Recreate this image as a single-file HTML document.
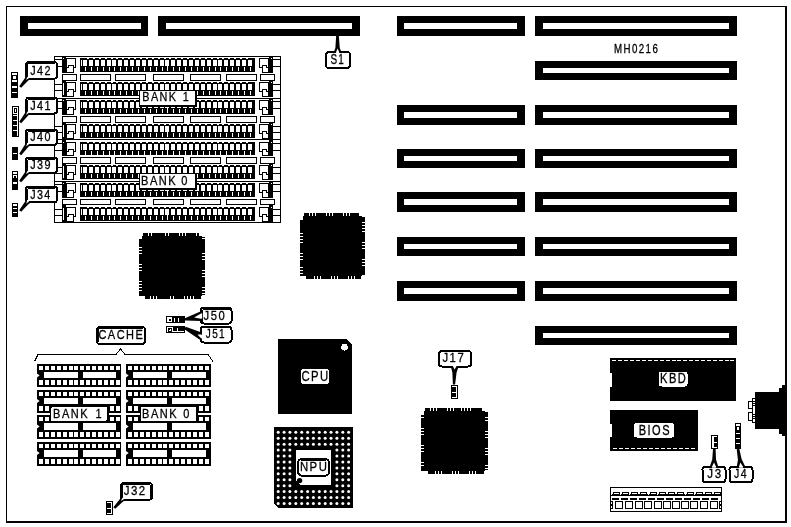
<!DOCTYPE html>
<html lang="en">
<head>
<meta charset="utf-8">
<title>MH0216 motherboard layout</title>
<style>
html,body{margin:0;padding:0;background:#fff;}
body{width:791px;height:527px;overflow:hidden;}
svg{display:block;will-change:transform;}
svg text{font-family:"Liberation Sans",sans-serif;}
</style>
</head>
<body>
<svg width="791" height="527" viewBox="0 0 791 527" shape-rendering="crispEdges">
<rect x="0" y="0" width="791" height="527" fill="#fff"/>
<rect x="6" y="6" width="781" height="1" fill="#000"/>
<rect x="6" y="6" width="1" height="517" fill="#000"/>
<rect x="785" y="6" width="2" height="517" fill="#000"/>
<rect x="6" y="521" width="781" height="2" fill="#000"/>
<rect x="20" y="16" width="128" height="20" fill="#000"/>
<rect x="28" y="23" width="113" height="6" fill="#fff"/>
<rect x="158" y="16" width="202" height="20" fill="#000"/>
<rect x="166" y="23" width="186" height="6" fill="#fff"/>
<rect x="535" y="16" width="202" height="20" fill="#000"/>
<rect x="543" y="23" width="186" height="6" fill="#fff"/>
<rect x="397" y="16" width="128" height="20" fill="#000"/>
<rect x="404" y="23" width="113" height="6" fill="#fff"/>
<rect x="535" y="61" width="202" height="19" fill="#000"/>
<rect x="543" y="68" width="186" height="5" fill="#fff"/>
<rect x="535" y="105" width="202" height="20" fill="#000"/>
<rect x="543" y="112" width="186" height="6" fill="#fff"/>
<rect x="397" y="105" width="128" height="20" fill="#000"/>
<rect x="404" y="112" width="113" height="6" fill="#fff"/>
<rect x="535" y="149" width="202" height="19" fill="#000"/>
<rect x="543" y="156" width="186" height="5" fill="#fff"/>
<rect x="397" y="149" width="128" height="19" fill="#000"/>
<rect x="404" y="156" width="113" height="5" fill="#fff"/>
<rect x="535" y="192" width="202" height="20" fill="#000"/>
<rect x="543" y="199" width="186" height="6" fill="#fff"/>
<rect x="397" y="192" width="128" height="20" fill="#000"/>
<rect x="404" y="199" width="113" height="6" fill="#fff"/>
<rect x="535" y="237" width="202" height="19" fill="#000"/>
<rect x="543" y="244" width="186" height="5" fill="#fff"/>
<rect x="397" y="237" width="128" height="19" fill="#000"/>
<rect x="404" y="244" width="113" height="5" fill="#fff"/>
<rect x="535" y="281" width="202" height="20" fill="#000"/>
<rect x="543" y="288" width="186" height="6" fill="#fff"/>
<rect x="397" y="281" width="128" height="20" fill="#000"/>
<rect x="404" y="288" width="113" height="6" fill="#fff"/>
<rect x="535" y="326" width="202" height="19" fill="#000"/>
<rect x="543" y="333" width="186" height="5" fill="#fff"/>
<rect x="54" y="56" width="227" height="167" fill="#fff"/>
<rect x="54" y="56" width="1" height="167" fill="#000"/>
<rect x="280" y="56" width="1" height="167" fill="#000"/>
<rect x="80" y="58" width="175" height="14" fill="#000"/>
<rect x="81" y="60" width="1" height="6" fill="#fff"/>
<rect x="83" y="60" width="4" height="6" fill="#fff"/>
<rect x="85" y="67" width="1.4" height="4" fill="#fff"/>
<rect x="87" y="58" width="2" height="1" fill="#fff"/>
<rect x="89" y="60" width="4" height="6" fill="#fff"/>
<rect x="91" y="67" width="1.4" height="4" fill="#fff"/>
<rect x="93" y="58" width="2" height="1" fill="#fff"/>
<rect x="95" y="60" width="4" height="6" fill="#fff"/>
<rect x="97" y="67" width="1.4" height="4" fill="#fff"/>
<rect x="99" y="58" width="2" height="1" fill="#fff"/>
<rect x="101" y="60" width="4" height="6" fill="#fff"/>
<rect x="103" y="67" width="1.4" height="4" fill="#fff"/>
<rect x="105" y="58" width="2" height="1" fill="#fff"/>
<rect x="107" y="60" width="4" height="6" fill="#fff"/>
<rect x="109" y="67" width="1.4" height="4" fill="#fff"/>
<rect x="111" y="58" width="2" height="1" fill="#fff"/>
<rect x="112" y="60" width="4" height="6" fill="#fff"/>
<rect x="114" y="67" width="1.4" height="4" fill="#fff"/>
<rect x="116" y="58" width="2" height="1" fill="#fff"/>
<rect x="118" y="60" width="4" height="6" fill="#fff"/>
<rect x="120" y="67" width="1.4" height="4" fill="#fff"/>
<rect x="122" y="58" width="2" height="1" fill="#fff"/>
<rect x="124" y="60" width="4" height="6" fill="#fff"/>
<rect x="126" y="67" width="1.4" height="4" fill="#fff"/>
<rect x="128" y="58" width="2" height="1" fill="#fff"/>
<rect x="130" y="60" width="4" height="6" fill="#fff"/>
<rect x="132" y="67" width="1.4" height="4" fill="#fff"/>
<rect x="134" y="58" width="2" height="1" fill="#fff"/>
<rect x="136" y="60" width="4" height="6" fill="#fff"/>
<rect x="138" y="67" width="1.4" height="4" fill="#fff"/>
<rect x="140" y="58" width="2" height="1" fill="#fff"/>
<rect x="142" y="60" width="4" height="6" fill="#fff"/>
<rect x="144" y="67" width="1.4" height="4" fill="#fff"/>
<rect x="146" y="58" width="2" height="1" fill="#fff"/>
<rect x="148" y="60" width="4" height="6" fill="#fff"/>
<rect x="150" y="67" width="1.4" height="4" fill="#fff"/>
<rect x="152" y="58" width="2" height="1" fill="#fff"/>
<rect x="154" y="60" width="4" height="6" fill="#fff"/>
<rect x="156" y="67" width="1.4" height="4" fill="#fff"/>
<rect x="158" y="58" width="2" height="1" fill="#fff"/>
<rect x="160" y="60" width="4" height="6" fill="#fff"/>
<rect x="162" y="67" width="1.4" height="4" fill="#fff"/>
<rect x="164" y="58" width="2" height="1" fill="#fff"/>
<rect x="165" y="60" width="4" height="6" fill="#fff"/>
<rect x="167" y="67" width="1.4" height="4" fill="#fff"/>
<rect x="169" y="58" width="2" height="1" fill="#fff"/>
<rect x="171" y="60" width="4" height="6" fill="#fff"/>
<rect x="173" y="67" width="1.4" height="4" fill="#fff"/>
<rect x="175" y="58" width="2" height="1" fill="#fff"/>
<rect x="177" y="60" width="4" height="6" fill="#fff"/>
<rect x="179" y="67" width="1.4" height="4" fill="#fff"/>
<rect x="181" y="58" width="2" height="1" fill="#fff"/>
<rect x="183" y="60" width="4" height="6" fill="#fff"/>
<rect x="185" y="67" width="1.4" height="4" fill="#fff"/>
<rect x="187" y="58" width="2" height="1" fill="#fff"/>
<rect x="189" y="60" width="4" height="6" fill="#fff"/>
<rect x="191" y="67" width="1.4" height="4" fill="#fff"/>
<rect x="193" y="58" width="2" height="1" fill="#fff"/>
<rect x="195" y="60" width="4" height="6" fill="#fff"/>
<rect x="197" y="67" width="1.4" height="4" fill="#fff"/>
<rect x="199" y="58" width="2" height="1" fill="#fff"/>
<rect x="201" y="60" width="4" height="6" fill="#fff"/>
<rect x="203" y="67" width="1.4" height="4" fill="#fff"/>
<rect x="205" y="58" width="2" height="1" fill="#fff"/>
<rect x="207" y="60" width="4" height="6" fill="#fff"/>
<rect x="209" y="67" width="1.4" height="4" fill="#fff"/>
<rect x="211" y="58" width="2" height="1" fill="#fff"/>
<rect x="213" y="60" width="4" height="6" fill="#fff"/>
<rect x="215" y="67" width="1.4" height="4" fill="#fff"/>
<rect x="217" y="58" width="2" height="1" fill="#fff"/>
<rect x="218" y="60" width="4" height="6" fill="#fff"/>
<rect x="220" y="67" width="1.4" height="4" fill="#fff"/>
<rect x="222" y="58" width="2" height="1" fill="#fff"/>
<rect x="224" y="60" width="4" height="6" fill="#fff"/>
<rect x="226" y="67" width="1.4" height="4" fill="#fff"/>
<rect x="228" y="58" width="2" height="1" fill="#fff"/>
<rect x="230" y="60" width="4" height="6" fill="#fff"/>
<rect x="232" y="67" width="1.4" height="4" fill="#fff"/>
<rect x="234" y="58" width="2" height="1" fill="#fff"/>
<rect x="236" y="60" width="4" height="6" fill="#fff"/>
<rect x="238" y="67" width="1.4" height="4" fill="#fff"/>
<rect x="240" y="58" width="2" height="1" fill="#fff"/>
<rect x="242" y="60" width="4" height="6" fill="#fff"/>
<rect x="244" y="67" width="1.4" height="4" fill="#fff"/>
<rect x="246" y="58" width="2" height="1" fill="#fff"/>
<rect x="248" y="60" width="4" height="6" fill="#fff"/>
<rect x="250" y="67" width="1.4" height="4" fill="#fff"/>
<rect x="167" y="60" width="1.4" height="11" fill="#fff"/>
<rect x="80" y="82" width="175" height="14" fill="#000"/>
<rect x="81" y="84" width="1" height="6" fill="#fff"/>
<rect x="83" y="84" width="4" height="6" fill="#fff"/>
<rect x="85" y="91" width="1.4" height="4" fill="#fff"/>
<rect x="87" y="82" width="2" height="1" fill="#fff"/>
<rect x="89" y="84" width="4" height="6" fill="#fff"/>
<rect x="91" y="91" width="1.4" height="4" fill="#fff"/>
<rect x="93" y="82" width="2" height="1" fill="#fff"/>
<rect x="95" y="84" width="4" height="6" fill="#fff"/>
<rect x="97" y="91" width="1.4" height="4" fill="#fff"/>
<rect x="99" y="82" width="2" height="1" fill="#fff"/>
<rect x="101" y="84" width="4" height="6" fill="#fff"/>
<rect x="103" y="91" width="1.4" height="4" fill="#fff"/>
<rect x="105" y="82" width="2" height="1" fill="#fff"/>
<rect x="107" y="84" width="4" height="6" fill="#fff"/>
<rect x="109" y="91" width="1.4" height="4" fill="#fff"/>
<rect x="111" y="82" width="2" height="1" fill="#fff"/>
<rect x="112" y="84" width="4" height="6" fill="#fff"/>
<rect x="114" y="91" width="1.4" height="4" fill="#fff"/>
<rect x="116" y="82" width="2" height="1" fill="#fff"/>
<rect x="118" y="84" width="4" height="6" fill="#fff"/>
<rect x="120" y="91" width="1.4" height="4" fill="#fff"/>
<rect x="122" y="82" width="2" height="1" fill="#fff"/>
<rect x="124" y="84" width="4" height="6" fill="#fff"/>
<rect x="126" y="91" width="1.4" height="4" fill="#fff"/>
<rect x="128" y="82" width="2" height="1" fill="#fff"/>
<rect x="130" y="84" width="4" height="6" fill="#fff"/>
<rect x="132" y="91" width="1.4" height="4" fill="#fff"/>
<rect x="134" y="82" width="2" height="1" fill="#fff"/>
<rect x="136" y="84" width="4" height="6" fill="#fff"/>
<rect x="138" y="91" width="1.4" height="4" fill="#fff"/>
<rect x="140" y="82" width="2" height="1" fill="#fff"/>
<rect x="142" y="84" width="4" height="6" fill="#fff"/>
<rect x="144" y="91" width="1.4" height="4" fill="#fff"/>
<rect x="146" y="82" width="2" height="1" fill="#fff"/>
<rect x="148" y="84" width="4" height="6" fill="#fff"/>
<rect x="150" y="91" width="1.4" height="4" fill="#fff"/>
<rect x="152" y="82" width="2" height="1" fill="#fff"/>
<rect x="154" y="84" width="4" height="6" fill="#fff"/>
<rect x="156" y="91" width="1.4" height="4" fill="#fff"/>
<rect x="158" y="82" width="2" height="1" fill="#fff"/>
<rect x="160" y="84" width="4" height="6" fill="#fff"/>
<rect x="162" y="91" width="1.4" height="4" fill="#fff"/>
<rect x="164" y="82" width="2" height="1" fill="#fff"/>
<rect x="165" y="84" width="4" height="6" fill="#fff"/>
<rect x="167" y="91" width="1.4" height="4" fill="#fff"/>
<rect x="169" y="82" width="2" height="1" fill="#fff"/>
<rect x="171" y="84" width="4" height="6" fill="#fff"/>
<rect x="173" y="91" width="1.4" height="4" fill="#fff"/>
<rect x="175" y="82" width="2" height="1" fill="#fff"/>
<rect x="177" y="84" width="4" height="6" fill="#fff"/>
<rect x="179" y="91" width="1.4" height="4" fill="#fff"/>
<rect x="181" y="82" width="2" height="1" fill="#fff"/>
<rect x="183" y="84" width="4" height="6" fill="#fff"/>
<rect x="185" y="91" width="1.4" height="4" fill="#fff"/>
<rect x="187" y="82" width="2" height="1" fill="#fff"/>
<rect x="189" y="84" width="4" height="6" fill="#fff"/>
<rect x="191" y="91" width="1.4" height="4" fill="#fff"/>
<rect x="193" y="82" width="2" height="1" fill="#fff"/>
<rect x="195" y="84" width="4" height="6" fill="#fff"/>
<rect x="197" y="91" width="1.4" height="4" fill="#fff"/>
<rect x="199" y="82" width="2" height="1" fill="#fff"/>
<rect x="201" y="84" width="4" height="6" fill="#fff"/>
<rect x="203" y="91" width="1.4" height="4" fill="#fff"/>
<rect x="205" y="82" width="2" height="1" fill="#fff"/>
<rect x="207" y="84" width="4" height="6" fill="#fff"/>
<rect x="209" y="91" width="1.4" height="4" fill="#fff"/>
<rect x="211" y="82" width="2" height="1" fill="#fff"/>
<rect x="213" y="84" width="4" height="6" fill="#fff"/>
<rect x="215" y="91" width="1.4" height="4" fill="#fff"/>
<rect x="217" y="82" width="2" height="1" fill="#fff"/>
<rect x="218" y="84" width="4" height="6" fill="#fff"/>
<rect x="220" y="91" width="1.4" height="4" fill="#fff"/>
<rect x="222" y="82" width="2" height="1" fill="#fff"/>
<rect x="224" y="84" width="4" height="6" fill="#fff"/>
<rect x="226" y="91" width="1.4" height="4" fill="#fff"/>
<rect x="228" y="82" width="2" height="1" fill="#fff"/>
<rect x="230" y="84" width="4" height="6" fill="#fff"/>
<rect x="232" y="91" width="1.4" height="4" fill="#fff"/>
<rect x="234" y="82" width="2" height="1" fill="#fff"/>
<rect x="236" y="84" width="4" height="6" fill="#fff"/>
<rect x="238" y="91" width="1.4" height="4" fill="#fff"/>
<rect x="240" y="82" width="2" height="1" fill="#fff"/>
<rect x="242" y="84" width="4" height="6" fill="#fff"/>
<rect x="244" y="91" width="1.4" height="4" fill="#fff"/>
<rect x="246" y="82" width="2" height="1" fill="#fff"/>
<rect x="248" y="84" width="4" height="6" fill="#fff"/>
<rect x="250" y="91" width="1.4" height="4" fill="#fff"/>
<rect x="167" y="84" width="1.4" height="11" fill="#fff"/>
<rect x="62" y="56" width="4" height="17" fill="#000"/>
<rect x="63" y="58" width="1" height="1" fill="#fff"/>
<polygon points="66.5,58.5 75.5,58.5 75.5,67.5 66.5,67.5" fill="#fff" stroke="#000" stroke-width="1"/>
<polygon points="66.5,67.5 68.5,67.5 68.5,65.5 73,65.5 73,72.5 66.5,72.5" fill="#fff" stroke="#000" stroke-width="1"/>
<rect x="269" y="56" width="4" height="17" fill="#000"/>
<rect x="271" y="58" width="1" height="1" fill="#fff"/>
<polygon points="268.5,58.5 259.5,58.5 259.5,67.5 268.5,67.5" fill="#fff" stroke="#000" stroke-width="1"/>
<polygon points="268.5,67.5 266.5,67.5 266.5,65.5 262,65.5 262,72.5 268.5,72.5" fill="#fff" stroke="#000" stroke-width="1"/>
<rect x="62" y="80" width="4" height="17" fill="#000"/>
<rect x="63" y="83" width="1" height="12" fill="#fff"/>
<polygon points="66.5,82.5 75.5,82.5 75.5,91.5 66.5,91.5" fill="#fff" stroke="#000" stroke-width="1"/>
<polygon points="66.5,91.5 68.5,91.5 68.5,89.5 73,89.5 73,96.5 66.5,96.5" fill="#fff" stroke="#000" stroke-width="1"/>
<rect x="269" y="80" width="4" height="17" fill="#000"/>
<rect x="271" y="82" width="1" height="1" fill="#fff"/>
<polygon points="268.5,82.5 259.5,82.5 259.5,91.5 268.5,91.5" fill="#fff" stroke="#000" stroke-width="1"/>
<polygon points="268.5,91.5 266.5,91.5 266.5,89.5 262,89.5 262,96.5 268.5,96.5" fill="#fff" stroke="#000" stroke-width="1"/>
<rect x="62.5" y="74.5" width="14" height="5.5" fill="#fff" stroke="#000" stroke-width="1"/>
<rect x="80.5" y="74.5" width="30" height="5.5" fill="#fff" stroke="#000" stroke-width="1"/>
<rect x="115.5" y="74.5" width="30" height="5.5" fill="#fff" stroke="#000" stroke-width="1"/>
<rect x="153.5" y="74.5" width="30" height="5.5" fill="#fff" stroke="#000" stroke-width="1"/>
<rect x="190.5" y="74.5" width="30" height="5.5" fill="#fff" stroke="#000" stroke-width="1"/>
<rect x="226.5" y="74.5" width="30" height="5.5" fill="#fff" stroke="#000" stroke-width="1"/>
<rect x="260.5" y="74.5" width="14" height="5.5" fill="#fff" stroke="#000" stroke-width="1"/>
<rect x="54" y="59" width="8" height="1" fill="#000"/>
<rect x="273" y="59" width="8" height="1" fill="#000"/>
<rect x="54" y="66" width="8" height="1" fill="#000"/>
<rect x="273" y="66" width="8" height="1" fill="#000"/>
<rect x="54" y="84" width="8" height="1" fill="#000"/>
<rect x="273" y="84" width="8" height="1" fill="#000"/>
<rect x="54" y="90" width="8" height="1" fill="#000"/>
<rect x="273" y="90" width="8" height="1" fill="#000"/>
<rect x="80" y="100" width="175" height="14" fill="#000"/>
<rect x="81" y="102" width="1" height="6" fill="#fff"/>
<rect x="83" y="102" width="4" height="6" fill="#fff"/>
<rect x="85" y="109" width="1.4" height="4" fill="#fff"/>
<rect x="87" y="100" width="2" height="1" fill="#fff"/>
<rect x="89" y="102" width="4" height="6" fill="#fff"/>
<rect x="91" y="109" width="1.4" height="4" fill="#fff"/>
<rect x="93" y="100" width="2" height="1" fill="#fff"/>
<rect x="95" y="102" width="4" height="6" fill="#fff"/>
<rect x="97" y="109" width="1.4" height="4" fill="#fff"/>
<rect x="99" y="100" width="2" height="1" fill="#fff"/>
<rect x="101" y="102" width="4" height="6" fill="#fff"/>
<rect x="103" y="109" width="1.4" height="4" fill="#fff"/>
<rect x="105" y="100" width="2" height="1" fill="#fff"/>
<rect x="107" y="102" width="4" height="6" fill="#fff"/>
<rect x="109" y="109" width="1.4" height="4" fill="#fff"/>
<rect x="111" y="100" width="2" height="1" fill="#fff"/>
<rect x="112" y="102" width="4" height="6" fill="#fff"/>
<rect x="114" y="109" width="1.4" height="4" fill="#fff"/>
<rect x="116" y="100" width="2" height="1" fill="#fff"/>
<rect x="118" y="102" width="4" height="6" fill="#fff"/>
<rect x="120" y="109" width="1.4" height="4" fill="#fff"/>
<rect x="122" y="100" width="2" height="1" fill="#fff"/>
<rect x="124" y="102" width="4" height="6" fill="#fff"/>
<rect x="126" y="109" width="1.4" height="4" fill="#fff"/>
<rect x="128" y="100" width="2" height="1" fill="#fff"/>
<rect x="130" y="102" width="4" height="6" fill="#fff"/>
<rect x="132" y="109" width="1.4" height="4" fill="#fff"/>
<rect x="134" y="100" width="2" height="1" fill="#fff"/>
<rect x="136" y="102" width="4" height="6" fill="#fff"/>
<rect x="138" y="109" width="1.4" height="4" fill="#fff"/>
<rect x="140" y="100" width="2" height="1" fill="#fff"/>
<rect x="142" y="102" width="4" height="6" fill="#fff"/>
<rect x="144" y="109" width="1.4" height="4" fill="#fff"/>
<rect x="146" y="100" width="2" height="1" fill="#fff"/>
<rect x="148" y="102" width="4" height="6" fill="#fff"/>
<rect x="150" y="109" width="1.4" height="4" fill="#fff"/>
<rect x="152" y="100" width="2" height="1" fill="#fff"/>
<rect x="154" y="102" width="4" height="6" fill="#fff"/>
<rect x="156" y="109" width="1.4" height="4" fill="#fff"/>
<rect x="158" y="100" width="2" height="1" fill="#fff"/>
<rect x="160" y="102" width="4" height="6" fill="#fff"/>
<rect x="162" y="109" width="1.4" height="4" fill="#fff"/>
<rect x="164" y="100" width="2" height="1" fill="#fff"/>
<rect x="165" y="102" width="4" height="6" fill="#fff"/>
<rect x="167" y="109" width="1.4" height="4" fill="#fff"/>
<rect x="169" y="100" width="2" height="1" fill="#fff"/>
<rect x="171" y="102" width="4" height="6" fill="#fff"/>
<rect x="173" y="109" width="1.4" height="4" fill="#fff"/>
<rect x="175" y="100" width="2" height="1" fill="#fff"/>
<rect x="177" y="102" width="4" height="6" fill="#fff"/>
<rect x="179" y="109" width="1.4" height="4" fill="#fff"/>
<rect x="181" y="100" width="2" height="1" fill="#fff"/>
<rect x="183" y="102" width="4" height="6" fill="#fff"/>
<rect x="185" y="109" width="1.4" height="4" fill="#fff"/>
<rect x="187" y="100" width="2" height="1" fill="#fff"/>
<rect x="189" y="102" width="4" height="6" fill="#fff"/>
<rect x="191" y="109" width="1.4" height="4" fill="#fff"/>
<rect x="193" y="100" width="2" height="1" fill="#fff"/>
<rect x="195" y="102" width="4" height="6" fill="#fff"/>
<rect x="197" y="109" width="1.4" height="4" fill="#fff"/>
<rect x="199" y="100" width="2" height="1" fill="#fff"/>
<rect x="201" y="102" width="4" height="6" fill="#fff"/>
<rect x="203" y="109" width="1.4" height="4" fill="#fff"/>
<rect x="205" y="100" width="2" height="1" fill="#fff"/>
<rect x="207" y="102" width="4" height="6" fill="#fff"/>
<rect x="209" y="109" width="1.4" height="4" fill="#fff"/>
<rect x="211" y="100" width="2" height="1" fill="#fff"/>
<rect x="213" y="102" width="4" height="6" fill="#fff"/>
<rect x="215" y="109" width="1.4" height="4" fill="#fff"/>
<rect x="217" y="100" width="2" height="1" fill="#fff"/>
<rect x="218" y="102" width="4" height="6" fill="#fff"/>
<rect x="220" y="109" width="1.4" height="4" fill="#fff"/>
<rect x="222" y="100" width="2" height="1" fill="#fff"/>
<rect x="224" y="102" width="4" height="6" fill="#fff"/>
<rect x="226" y="109" width="1.4" height="4" fill="#fff"/>
<rect x="228" y="100" width="2" height="1" fill="#fff"/>
<rect x="230" y="102" width="4" height="6" fill="#fff"/>
<rect x="232" y="109" width="1.4" height="4" fill="#fff"/>
<rect x="234" y="100" width="2" height="1" fill="#fff"/>
<rect x="236" y="102" width="4" height="6" fill="#fff"/>
<rect x="238" y="109" width="1.4" height="4" fill="#fff"/>
<rect x="240" y="100" width="2" height="1" fill="#fff"/>
<rect x="242" y="102" width="4" height="6" fill="#fff"/>
<rect x="244" y="109" width="1.4" height="4" fill="#fff"/>
<rect x="246" y="100" width="2" height="1" fill="#fff"/>
<rect x="248" y="102" width="4" height="6" fill="#fff"/>
<rect x="250" y="109" width="1.4" height="4" fill="#fff"/>
<rect x="167" y="102" width="1.4" height="11" fill="#fff"/>
<rect x="80" y="124" width="175" height="14" fill="#000"/>
<rect x="81" y="126" width="1" height="6" fill="#fff"/>
<rect x="83" y="126" width="4" height="6" fill="#fff"/>
<rect x="85" y="133" width="1.4" height="4" fill="#fff"/>
<rect x="87" y="124" width="2" height="1" fill="#fff"/>
<rect x="89" y="126" width="4" height="6" fill="#fff"/>
<rect x="91" y="133" width="1.4" height="4" fill="#fff"/>
<rect x="93" y="124" width="2" height="1" fill="#fff"/>
<rect x="95" y="126" width="4" height="6" fill="#fff"/>
<rect x="97" y="133" width="1.4" height="4" fill="#fff"/>
<rect x="99" y="124" width="2" height="1" fill="#fff"/>
<rect x="101" y="126" width="4" height="6" fill="#fff"/>
<rect x="103" y="133" width="1.4" height="4" fill="#fff"/>
<rect x="105" y="124" width="2" height="1" fill="#fff"/>
<rect x="107" y="126" width="4" height="6" fill="#fff"/>
<rect x="109" y="133" width="1.4" height="4" fill="#fff"/>
<rect x="111" y="124" width="2" height="1" fill="#fff"/>
<rect x="112" y="126" width="4" height="6" fill="#fff"/>
<rect x="114" y="133" width="1.4" height="4" fill="#fff"/>
<rect x="116" y="124" width="2" height="1" fill="#fff"/>
<rect x="118" y="126" width="4" height="6" fill="#fff"/>
<rect x="120" y="133" width="1.4" height="4" fill="#fff"/>
<rect x="122" y="124" width="2" height="1" fill="#fff"/>
<rect x="124" y="126" width="4" height="6" fill="#fff"/>
<rect x="126" y="133" width="1.4" height="4" fill="#fff"/>
<rect x="128" y="124" width="2" height="1" fill="#fff"/>
<rect x="130" y="126" width="4" height="6" fill="#fff"/>
<rect x="132" y="133" width="1.4" height="4" fill="#fff"/>
<rect x="134" y="124" width="2" height="1" fill="#fff"/>
<rect x="136" y="126" width="4" height="6" fill="#fff"/>
<rect x="138" y="133" width="1.4" height="4" fill="#fff"/>
<rect x="140" y="124" width="2" height="1" fill="#fff"/>
<rect x="142" y="126" width="4" height="6" fill="#fff"/>
<rect x="144" y="133" width="1.4" height="4" fill="#fff"/>
<rect x="146" y="124" width="2" height="1" fill="#fff"/>
<rect x="148" y="126" width="4" height="6" fill="#fff"/>
<rect x="150" y="133" width="1.4" height="4" fill="#fff"/>
<rect x="152" y="124" width="2" height="1" fill="#fff"/>
<rect x="154" y="126" width="4" height="6" fill="#fff"/>
<rect x="156" y="133" width="1.4" height="4" fill="#fff"/>
<rect x="158" y="124" width="2" height="1" fill="#fff"/>
<rect x="160" y="126" width="4" height="6" fill="#fff"/>
<rect x="162" y="133" width="1.4" height="4" fill="#fff"/>
<rect x="164" y="124" width="2" height="1" fill="#fff"/>
<rect x="165" y="126" width="4" height="6" fill="#fff"/>
<rect x="167" y="133" width="1.4" height="4" fill="#fff"/>
<rect x="169" y="124" width="2" height="1" fill="#fff"/>
<rect x="171" y="126" width="4" height="6" fill="#fff"/>
<rect x="173" y="133" width="1.4" height="4" fill="#fff"/>
<rect x="175" y="124" width="2" height="1" fill="#fff"/>
<rect x="177" y="126" width="4" height="6" fill="#fff"/>
<rect x="179" y="133" width="1.4" height="4" fill="#fff"/>
<rect x="181" y="124" width="2" height="1" fill="#fff"/>
<rect x="183" y="126" width="4" height="6" fill="#fff"/>
<rect x="185" y="133" width="1.4" height="4" fill="#fff"/>
<rect x="187" y="124" width="2" height="1" fill="#fff"/>
<rect x="189" y="126" width="4" height="6" fill="#fff"/>
<rect x="191" y="133" width="1.4" height="4" fill="#fff"/>
<rect x="193" y="124" width="2" height="1" fill="#fff"/>
<rect x="195" y="126" width="4" height="6" fill="#fff"/>
<rect x="197" y="133" width="1.4" height="4" fill="#fff"/>
<rect x="199" y="124" width="2" height="1" fill="#fff"/>
<rect x="201" y="126" width="4" height="6" fill="#fff"/>
<rect x="203" y="133" width="1.4" height="4" fill="#fff"/>
<rect x="205" y="124" width="2" height="1" fill="#fff"/>
<rect x="207" y="126" width="4" height="6" fill="#fff"/>
<rect x="209" y="133" width="1.4" height="4" fill="#fff"/>
<rect x="211" y="124" width="2" height="1" fill="#fff"/>
<rect x="213" y="126" width="4" height="6" fill="#fff"/>
<rect x="215" y="133" width="1.4" height="4" fill="#fff"/>
<rect x="217" y="124" width="2" height="1" fill="#fff"/>
<rect x="218" y="126" width="4" height="6" fill="#fff"/>
<rect x="220" y="133" width="1.4" height="4" fill="#fff"/>
<rect x="222" y="124" width="2" height="1" fill="#fff"/>
<rect x="224" y="126" width="4" height="6" fill="#fff"/>
<rect x="226" y="133" width="1.4" height="4" fill="#fff"/>
<rect x="228" y="124" width="2" height="1" fill="#fff"/>
<rect x="230" y="126" width="4" height="6" fill="#fff"/>
<rect x="232" y="133" width="1.4" height="4" fill="#fff"/>
<rect x="234" y="124" width="2" height="1" fill="#fff"/>
<rect x="236" y="126" width="4" height="6" fill="#fff"/>
<rect x="238" y="133" width="1.4" height="4" fill="#fff"/>
<rect x="240" y="124" width="2" height="1" fill="#fff"/>
<rect x="242" y="126" width="4" height="6" fill="#fff"/>
<rect x="244" y="133" width="1.4" height="4" fill="#fff"/>
<rect x="246" y="124" width="2" height="1" fill="#fff"/>
<rect x="248" y="126" width="4" height="6" fill="#fff"/>
<rect x="250" y="133" width="1.4" height="4" fill="#fff"/>
<rect x="167" y="126" width="1.4" height="11" fill="#fff"/>
<rect x="62" y="98" width="4" height="17" fill="#000"/>
<rect x="63" y="100" width="1" height="1" fill="#fff"/>
<polygon points="66.5,100.5 75.5,100.5 75.5,109.5 66.5,109.5" fill="#fff" stroke="#000" stroke-width="1"/>
<polygon points="66.5,109.5 68.5,109.5 68.5,107.5 73,107.5 73,114.5 66.5,114.5" fill="#fff" stroke="#000" stroke-width="1"/>
<rect x="269" y="98" width="4" height="17" fill="#000"/>
<rect x="271" y="100" width="1" height="1" fill="#fff"/>
<polygon points="268.5,100.5 259.5,100.5 259.5,109.5 268.5,109.5" fill="#fff" stroke="#000" stroke-width="1"/>
<polygon points="268.5,109.5 266.5,109.5 266.5,107.5 262,107.5 262,114.5 268.5,114.5" fill="#fff" stroke="#000" stroke-width="1"/>
<rect x="62" y="122" width="4" height="17" fill="#000"/>
<rect x="63" y="125" width="1" height="12" fill="#fff"/>
<polygon points="66.5,124.5 75.5,124.5 75.5,133.5 66.5,133.5" fill="#fff" stroke="#000" stroke-width="1"/>
<polygon points="66.5,133.5 68.5,133.5 68.5,131.5 73,131.5 73,138.5 66.5,138.5" fill="#fff" stroke="#000" stroke-width="1"/>
<rect x="269" y="122" width="4" height="17" fill="#000"/>
<rect x="271" y="124" width="1" height="1" fill="#fff"/>
<polygon points="268.5,124.5 259.5,124.5 259.5,133.5 268.5,133.5" fill="#fff" stroke="#000" stroke-width="1"/>
<polygon points="268.5,133.5 266.5,133.5 266.5,131.5 262,131.5 262,138.5 268.5,138.5" fill="#fff" stroke="#000" stroke-width="1"/>
<rect x="62.5" y="116.5" width="14" height="5.5" fill="#fff" stroke="#000" stroke-width="1"/>
<rect x="80.5" y="116.5" width="30" height="5.5" fill="#fff" stroke="#000" stroke-width="1"/>
<rect x="115.5" y="116.5" width="30" height="5.5" fill="#fff" stroke="#000" stroke-width="1"/>
<rect x="153.5" y="116.5" width="30" height="5.5" fill="#fff" stroke="#000" stroke-width="1"/>
<rect x="190.5" y="116.5" width="30" height="5.5" fill="#fff" stroke="#000" stroke-width="1"/>
<rect x="226.5" y="116.5" width="30" height="5.5" fill="#fff" stroke="#000" stroke-width="1"/>
<rect x="260.5" y="116.5" width="14" height="5.5" fill="#fff" stroke="#000" stroke-width="1"/>
<rect x="54" y="101" width="8" height="1" fill="#000"/>
<rect x="273" y="101" width="8" height="1" fill="#000"/>
<rect x="54" y="108" width="8" height="1" fill="#000"/>
<rect x="273" y="108" width="8" height="1" fill="#000"/>
<rect x="54" y="126" width="8" height="1" fill="#000"/>
<rect x="273" y="126" width="8" height="1" fill="#000"/>
<rect x="54" y="132" width="8" height="1" fill="#000"/>
<rect x="273" y="132" width="8" height="1" fill="#000"/>
<rect x="80" y="141.5" width="175" height="13.5" fill="#000"/>
<rect x="81" y="143.5" width="1" height="6" fill="#fff"/>
<rect x="83" y="143.5" width="4" height="6" fill="#fff"/>
<rect x="85" y="150.5" width="1.4" height="4" fill="#fff"/>
<rect x="87" y="141.5" width="2" height="1" fill="#fff"/>
<rect x="89" y="143.5" width="4" height="6" fill="#fff"/>
<rect x="91" y="150.5" width="1.4" height="4" fill="#fff"/>
<rect x="93" y="141.5" width="2" height="1" fill="#fff"/>
<rect x="95" y="143.5" width="4" height="6" fill="#fff"/>
<rect x="97" y="150.5" width="1.4" height="4" fill="#fff"/>
<rect x="99" y="141.5" width="2" height="1" fill="#fff"/>
<rect x="101" y="143.5" width="4" height="6" fill="#fff"/>
<rect x="103" y="150.5" width="1.4" height="4" fill="#fff"/>
<rect x="105" y="141.5" width="2" height="1" fill="#fff"/>
<rect x="107" y="143.5" width="4" height="6" fill="#fff"/>
<rect x="109" y="150.5" width="1.4" height="4" fill="#fff"/>
<rect x="111" y="141.5" width="2" height="1" fill="#fff"/>
<rect x="112" y="143.5" width="4" height="6" fill="#fff"/>
<rect x="114" y="150.5" width="1.4" height="4" fill="#fff"/>
<rect x="116" y="141.5" width="2" height="1" fill="#fff"/>
<rect x="118" y="143.5" width="4" height="6" fill="#fff"/>
<rect x="120" y="150.5" width="1.4" height="4" fill="#fff"/>
<rect x="122" y="141.5" width="2" height="1" fill="#fff"/>
<rect x="124" y="143.5" width="4" height="6" fill="#fff"/>
<rect x="126" y="150.5" width="1.4" height="4" fill="#fff"/>
<rect x="128" y="141.5" width="2" height="1" fill="#fff"/>
<rect x="130" y="143.5" width="4" height="6" fill="#fff"/>
<rect x="132" y="150.5" width="1.4" height="4" fill="#fff"/>
<rect x="134" y="141.5" width="2" height="1" fill="#fff"/>
<rect x="136" y="143.5" width="4" height="6" fill="#fff"/>
<rect x="138" y="150.5" width="1.4" height="4" fill="#fff"/>
<rect x="140" y="141.5" width="2" height="1" fill="#fff"/>
<rect x="142" y="143.5" width="4" height="6" fill="#fff"/>
<rect x="144" y="150.5" width="1.4" height="4" fill="#fff"/>
<rect x="146" y="141.5" width="2" height="1" fill="#fff"/>
<rect x="148" y="143.5" width="4" height="6" fill="#fff"/>
<rect x="150" y="150.5" width="1.4" height="4" fill="#fff"/>
<rect x="152" y="141.5" width="2" height="1" fill="#fff"/>
<rect x="154" y="143.5" width="4" height="6" fill="#fff"/>
<rect x="156" y="150.5" width="1.4" height="4" fill="#fff"/>
<rect x="158" y="141.5" width="2" height="1" fill="#fff"/>
<rect x="160" y="143.5" width="4" height="6" fill="#fff"/>
<rect x="162" y="150.5" width="1.4" height="4" fill="#fff"/>
<rect x="164" y="141.5" width="2" height="1" fill="#fff"/>
<rect x="165" y="143.5" width="4" height="6" fill="#fff"/>
<rect x="167" y="150.5" width="1.4" height="4" fill="#fff"/>
<rect x="169" y="141.5" width="2" height="1" fill="#fff"/>
<rect x="171" y="143.5" width="4" height="6" fill="#fff"/>
<rect x="173" y="150.5" width="1.4" height="4" fill="#fff"/>
<rect x="175" y="141.5" width="2" height="1" fill="#fff"/>
<rect x="177" y="143.5" width="4" height="6" fill="#fff"/>
<rect x="179" y="150.5" width="1.4" height="4" fill="#fff"/>
<rect x="181" y="141.5" width="2" height="1" fill="#fff"/>
<rect x="183" y="143.5" width="4" height="6" fill="#fff"/>
<rect x="185" y="150.5" width="1.4" height="4" fill="#fff"/>
<rect x="187" y="141.5" width="2" height="1" fill="#fff"/>
<rect x="189" y="143.5" width="4" height="6" fill="#fff"/>
<rect x="191" y="150.5" width="1.4" height="4" fill="#fff"/>
<rect x="193" y="141.5" width="2" height="1" fill="#fff"/>
<rect x="195" y="143.5" width="4" height="6" fill="#fff"/>
<rect x="197" y="150.5" width="1.4" height="4" fill="#fff"/>
<rect x="199" y="141.5" width="2" height="1" fill="#fff"/>
<rect x="201" y="143.5" width="4" height="6" fill="#fff"/>
<rect x="203" y="150.5" width="1.4" height="4" fill="#fff"/>
<rect x="205" y="141.5" width="2" height="1" fill="#fff"/>
<rect x="207" y="143.5" width="4" height="6" fill="#fff"/>
<rect x="209" y="150.5" width="1.4" height="4" fill="#fff"/>
<rect x="211" y="141.5" width="2" height="1" fill="#fff"/>
<rect x="213" y="143.5" width="4" height="6" fill="#fff"/>
<rect x="215" y="150.5" width="1.4" height="4" fill="#fff"/>
<rect x="217" y="141.5" width="2" height="1" fill="#fff"/>
<rect x="218" y="143.5" width="4" height="6" fill="#fff"/>
<rect x="220" y="150.5" width="1.4" height="4" fill="#fff"/>
<rect x="222" y="141.5" width="2" height="1" fill="#fff"/>
<rect x="224" y="143.5" width="4" height="6" fill="#fff"/>
<rect x="226" y="150.5" width="1.4" height="4" fill="#fff"/>
<rect x="228" y="141.5" width="2" height="1" fill="#fff"/>
<rect x="230" y="143.5" width="4" height="6" fill="#fff"/>
<rect x="232" y="150.5" width="1.4" height="4" fill="#fff"/>
<rect x="234" y="141.5" width="2" height="1" fill="#fff"/>
<rect x="236" y="143.5" width="4" height="6" fill="#fff"/>
<rect x="238" y="150.5" width="1.4" height="4" fill="#fff"/>
<rect x="240" y="141.5" width="2" height="1" fill="#fff"/>
<rect x="242" y="143.5" width="4" height="6" fill="#fff"/>
<rect x="244" y="150.5" width="1.4" height="4" fill="#fff"/>
<rect x="246" y="141.5" width="2" height="1" fill="#fff"/>
<rect x="248" y="143.5" width="4" height="6" fill="#fff"/>
<rect x="250" y="150.5" width="1.4" height="4" fill="#fff"/>
<rect x="167" y="143.5" width="1.4" height="11" fill="#fff"/>
<rect x="80" y="165" width="175" height="14" fill="#000"/>
<rect x="81" y="167" width="1" height="6" fill="#fff"/>
<rect x="83" y="167" width="4" height="6" fill="#fff"/>
<rect x="85" y="174" width="1.4" height="4" fill="#fff"/>
<rect x="87" y="165" width="2" height="1" fill="#fff"/>
<rect x="89" y="167" width="4" height="6" fill="#fff"/>
<rect x="91" y="174" width="1.4" height="4" fill="#fff"/>
<rect x="93" y="165" width="2" height="1" fill="#fff"/>
<rect x="95" y="167" width="4" height="6" fill="#fff"/>
<rect x="97" y="174" width="1.4" height="4" fill="#fff"/>
<rect x="99" y="165" width="2" height="1" fill="#fff"/>
<rect x="101" y="167" width="4" height="6" fill="#fff"/>
<rect x="103" y="174" width="1.4" height="4" fill="#fff"/>
<rect x="105" y="165" width="2" height="1" fill="#fff"/>
<rect x="107" y="167" width="4" height="6" fill="#fff"/>
<rect x="109" y="174" width="1.4" height="4" fill="#fff"/>
<rect x="111" y="165" width="2" height="1" fill="#fff"/>
<rect x="112" y="167" width="4" height="6" fill="#fff"/>
<rect x="114" y="174" width="1.4" height="4" fill="#fff"/>
<rect x="116" y="165" width="2" height="1" fill="#fff"/>
<rect x="118" y="167" width="4" height="6" fill="#fff"/>
<rect x="120" y="174" width="1.4" height="4" fill="#fff"/>
<rect x="122" y="165" width="2" height="1" fill="#fff"/>
<rect x="124" y="167" width="4" height="6" fill="#fff"/>
<rect x="126" y="174" width="1.4" height="4" fill="#fff"/>
<rect x="128" y="165" width="2" height="1" fill="#fff"/>
<rect x="130" y="167" width="4" height="6" fill="#fff"/>
<rect x="132" y="174" width="1.4" height="4" fill="#fff"/>
<rect x="134" y="165" width="2" height="1" fill="#fff"/>
<rect x="136" y="167" width="4" height="6" fill="#fff"/>
<rect x="138" y="174" width="1.4" height="4" fill="#fff"/>
<rect x="140" y="165" width="2" height="1" fill="#fff"/>
<rect x="142" y="167" width="4" height="6" fill="#fff"/>
<rect x="144" y="174" width="1.4" height="4" fill="#fff"/>
<rect x="146" y="165" width="2" height="1" fill="#fff"/>
<rect x="148" y="167" width="4" height="6" fill="#fff"/>
<rect x="150" y="174" width="1.4" height="4" fill="#fff"/>
<rect x="152" y="165" width="2" height="1" fill="#fff"/>
<rect x="154" y="167" width="4" height="6" fill="#fff"/>
<rect x="156" y="174" width="1.4" height="4" fill="#fff"/>
<rect x="158" y="165" width="2" height="1" fill="#fff"/>
<rect x="160" y="167" width="4" height="6" fill="#fff"/>
<rect x="162" y="174" width="1.4" height="4" fill="#fff"/>
<rect x="164" y="165" width="2" height="1" fill="#fff"/>
<rect x="165" y="167" width="4" height="6" fill="#fff"/>
<rect x="167" y="174" width="1.4" height="4" fill="#fff"/>
<rect x="169" y="165" width="2" height="1" fill="#fff"/>
<rect x="171" y="167" width="4" height="6" fill="#fff"/>
<rect x="173" y="174" width="1.4" height="4" fill="#fff"/>
<rect x="175" y="165" width="2" height="1" fill="#fff"/>
<rect x="177" y="167" width="4" height="6" fill="#fff"/>
<rect x="179" y="174" width="1.4" height="4" fill="#fff"/>
<rect x="181" y="165" width="2" height="1" fill="#fff"/>
<rect x="183" y="167" width="4" height="6" fill="#fff"/>
<rect x="185" y="174" width="1.4" height="4" fill="#fff"/>
<rect x="187" y="165" width="2" height="1" fill="#fff"/>
<rect x="189" y="167" width="4" height="6" fill="#fff"/>
<rect x="191" y="174" width="1.4" height="4" fill="#fff"/>
<rect x="193" y="165" width="2" height="1" fill="#fff"/>
<rect x="195" y="167" width="4" height="6" fill="#fff"/>
<rect x="197" y="174" width="1.4" height="4" fill="#fff"/>
<rect x="199" y="165" width="2" height="1" fill="#fff"/>
<rect x="201" y="167" width="4" height="6" fill="#fff"/>
<rect x="203" y="174" width="1.4" height="4" fill="#fff"/>
<rect x="205" y="165" width="2" height="1" fill="#fff"/>
<rect x="207" y="167" width="4" height="6" fill="#fff"/>
<rect x="209" y="174" width="1.4" height="4" fill="#fff"/>
<rect x="211" y="165" width="2" height="1" fill="#fff"/>
<rect x="213" y="167" width="4" height="6" fill="#fff"/>
<rect x="215" y="174" width="1.4" height="4" fill="#fff"/>
<rect x="217" y="165" width="2" height="1" fill="#fff"/>
<rect x="218" y="167" width="4" height="6" fill="#fff"/>
<rect x="220" y="174" width="1.4" height="4" fill="#fff"/>
<rect x="222" y="165" width="2" height="1" fill="#fff"/>
<rect x="224" y="167" width="4" height="6" fill="#fff"/>
<rect x="226" y="174" width="1.4" height="4" fill="#fff"/>
<rect x="228" y="165" width="2" height="1" fill="#fff"/>
<rect x="230" y="167" width="4" height="6" fill="#fff"/>
<rect x="232" y="174" width="1.4" height="4" fill="#fff"/>
<rect x="234" y="165" width="2" height="1" fill="#fff"/>
<rect x="236" y="167" width="4" height="6" fill="#fff"/>
<rect x="238" y="174" width="1.4" height="4" fill="#fff"/>
<rect x="240" y="165" width="2" height="1" fill="#fff"/>
<rect x="242" y="167" width="4" height="6" fill="#fff"/>
<rect x="244" y="174" width="1.4" height="4" fill="#fff"/>
<rect x="246" y="165" width="2" height="1" fill="#fff"/>
<rect x="248" y="167" width="4" height="6" fill="#fff"/>
<rect x="250" y="174" width="1.4" height="4" fill="#fff"/>
<rect x="167" y="167" width="1.4" height="11" fill="#fff"/>
<rect x="62" y="139.5" width="4" height="16.5" fill="#000"/>
<rect x="63" y="141.5" width="1" height="1" fill="#fff"/>
<polygon points="66.5,142 75.5,142 75.5,151 66.5,151" fill="#fff" stroke="#000" stroke-width="1"/>
<polygon points="66.5,151 68.5,151 68.5,149 73,149 73,155.5 66.5,155.5" fill="#fff" stroke="#000" stroke-width="1"/>
<rect x="269" y="139.5" width="4" height="16.5" fill="#000"/>
<rect x="271" y="141.5" width="1" height="1" fill="#fff"/>
<polygon points="268.5,142 259.5,142 259.5,151 268.5,151" fill="#fff" stroke="#000" stroke-width="1"/>
<polygon points="268.5,151 266.5,151 266.5,149 262,149 262,155.5 268.5,155.5" fill="#fff" stroke="#000" stroke-width="1"/>
<rect x="62" y="163" width="4" height="17" fill="#000"/>
<rect x="63" y="166" width="1" height="12" fill="#fff"/>
<polygon points="66.5,165.5 75.5,165.5 75.5,174.5 66.5,174.5" fill="#fff" stroke="#000" stroke-width="1"/>
<polygon points="66.5,174.5 68.5,174.5 68.5,172.5 73,172.5 73,179.5 66.5,179.5" fill="#fff" stroke="#000" stroke-width="1"/>
<rect x="269" y="163" width="4" height="17" fill="#000"/>
<rect x="271" y="165" width="1" height="1" fill="#fff"/>
<polygon points="268.5,165.5 259.5,165.5 259.5,174.5 268.5,174.5" fill="#fff" stroke="#000" stroke-width="1"/>
<polygon points="268.5,174.5 266.5,174.5 266.5,172.5 262,172.5 262,179.5 268.5,179.5" fill="#fff" stroke="#000" stroke-width="1"/>
<rect x="62.5" y="157.5" width="14" height="5.5" fill="#fff" stroke="#000" stroke-width="1"/>
<rect x="80.5" y="157.5" width="30" height="5.5" fill="#fff" stroke="#000" stroke-width="1"/>
<rect x="115.5" y="157.5" width="30" height="5.5" fill="#fff" stroke="#000" stroke-width="1"/>
<rect x="153.5" y="157.5" width="30" height="5.5" fill="#fff" stroke="#000" stroke-width="1"/>
<rect x="190.5" y="157.5" width="30" height="5.5" fill="#fff" stroke="#000" stroke-width="1"/>
<rect x="226.5" y="157.5" width="30" height="5.5" fill="#fff" stroke="#000" stroke-width="1"/>
<rect x="260.5" y="157.5" width="14" height="5.5" fill="#fff" stroke="#000" stroke-width="1"/>
<rect x="54" y="142.5" width="8" height="1" fill="#000"/>
<rect x="273" y="142.5" width="8" height="1" fill="#000"/>
<rect x="54" y="149.5" width="8" height="1" fill="#000"/>
<rect x="273" y="149.5" width="8" height="1" fill="#000"/>
<rect x="54" y="167" width="8" height="1" fill="#000"/>
<rect x="273" y="167" width="8" height="1" fill="#000"/>
<rect x="54" y="173" width="8" height="1" fill="#000"/>
<rect x="273" y="173" width="8" height="1" fill="#000"/>
<rect x="80" y="183" width="175" height="14" fill="#000"/>
<rect x="81" y="185" width="1" height="6" fill="#fff"/>
<rect x="83" y="185" width="4" height="6" fill="#fff"/>
<rect x="85" y="192" width="1.4" height="4" fill="#fff"/>
<rect x="87" y="183" width="2" height="1" fill="#fff"/>
<rect x="89" y="185" width="4" height="6" fill="#fff"/>
<rect x="91" y="192" width="1.4" height="4" fill="#fff"/>
<rect x="93" y="183" width="2" height="1" fill="#fff"/>
<rect x="95" y="185" width="4" height="6" fill="#fff"/>
<rect x="97" y="192" width="1.4" height="4" fill="#fff"/>
<rect x="99" y="183" width="2" height="1" fill="#fff"/>
<rect x="101" y="185" width="4" height="6" fill="#fff"/>
<rect x="103" y="192" width="1.4" height="4" fill="#fff"/>
<rect x="105" y="183" width="2" height="1" fill="#fff"/>
<rect x="107" y="185" width="4" height="6" fill="#fff"/>
<rect x="109" y="192" width="1.4" height="4" fill="#fff"/>
<rect x="111" y="183" width="2" height="1" fill="#fff"/>
<rect x="112" y="185" width="4" height="6" fill="#fff"/>
<rect x="114" y="192" width="1.4" height="4" fill="#fff"/>
<rect x="116" y="183" width="2" height="1" fill="#fff"/>
<rect x="118" y="185" width="4" height="6" fill="#fff"/>
<rect x="120" y="192" width="1.4" height="4" fill="#fff"/>
<rect x="122" y="183" width="2" height="1" fill="#fff"/>
<rect x="124" y="185" width="4" height="6" fill="#fff"/>
<rect x="126" y="192" width="1.4" height="4" fill="#fff"/>
<rect x="128" y="183" width="2" height="1" fill="#fff"/>
<rect x="130" y="185" width="4" height="6" fill="#fff"/>
<rect x="132" y="192" width="1.4" height="4" fill="#fff"/>
<rect x="134" y="183" width="2" height="1" fill="#fff"/>
<rect x="136" y="185" width="4" height="6" fill="#fff"/>
<rect x="138" y="192" width="1.4" height="4" fill="#fff"/>
<rect x="140" y="183" width="2" height="1" fill="#fff"/>
<rect x="142" y="185" width="4" height="6" fill="#fff"/>
<rect x="144" y="192" width="1.4" height="4" fill="#fff"/>
<rect x="146" y="183" width="2" height="1" fill="#fff"/>
<rect x="148" y="185" width="4" height="6" fill="#fff"/>
<rect x="150" y="192" width="1.4" height="4" fill="#fff"/>
<rect x="152" y="183" width="2" height="1" fill="#fff"/>
<rect x="154" y="185" width="4" height="6" fill="#fff"/>
<rect x="156" y="192" width="1.4" height="4" fill="#fff"/>
<rect x="158" y="183" width="2" height="1" fill="#fff"/>
<rect x="160" y="185" width="4" height="6" fill="#fff"/>
<rect x="162" y="192" width="1.4" height="4" fill="#fff"/>
<rect x="164" y="183" width="2" height="1" fill="#fff"/>
<rect x="165" y="185" width="4" height="6" fill="#fff"/>
<rect x="167" y="192" width="1.4" height="4" fill="#fff"/>
<rect x="169" y="183" width="2" height="1" fill="#fff"/>
<rect x="171" y="185" width="4" height="6" fill="#fff"/>
<rect x="173" y="192" width="1.4" height="4" fill="#fff"/>
<rect x="175" y="183" width="2" height="1" fill="#fff"/>
<rect x="177" y="185" width="4" height="6" fill="#fff"/>
<rect x="179" y="192" width="1.4" height="4" fill="#fff"/>
<rect x="181" y="183" width="2" height="1" fill="#fff"/>
<rect x="183" y="185" width="4" height="6" fill="#fff"/>
<rect x="185" y="192" width="1.4" height="4" fill="#fff"/>
<rect x="187" y="183" width="2" height="1" fill="#fff"/>
<rect x="189" y="185" width="4" height="6" fill="#fff"/>
<rect x="191" y="192" width="1.4" height="4" fill="#fff"/>
<rect x="193" y="183" width="2" height="1" fill="#fff"/>
<rect x="195" y="185" width="4" height="6" fill="#fff"/>
<rect x="197" y="192" width="1.4" height="4" fill="#fff"/>
<rect x="199" y="183" width="2" height="1" fill="#fff"/>
<rect x="201" y="185" width="4" height="6" fill="#fff"/>
<rect x="203" y="192" width="1.4" height="4" fill="#fff"/>
<rect x="205" y="183" width="2" height="1" fill="#fff"/>
<rect x="207" y="185" width="4" height="6" fill="#fff"/>
<rect x="209" y="192" width="1.4" height="4" fill="#fff"/>
<rect x="211" y="183" width="2" height="1" fill="#fff"/>
<rect x="213" y="185" width="4" height="6" fill="#fff"/>
<rect x="215" y="192" width="1.4" height="4" fill="#fff"/>
<rect x="217" y="183" width="2" height="1" fill="#fff"/>
<rect x="218" y="185" width="4" height="6" fill="#fff"/>
<rect x="220" y="192" width="1.4" height="4" fill="#fff"/>
<rect x="222" y="183" width="2" height="1" fill="#fff"/>
<rect x="224" y="185" width="4" height="6" fill="#fff"/>
<rect x="226" y="192" width="1.4" height="4" fill="#fff"/>
<rect x="228" y="183" width="2" height="1" fill="#fff"/>
<rect x="230" y="185" width="4" height="6" fill="#fff"/>
<rect x="232" y="192" width="1.4" height="4" fill="#fff"/>
<rect x="234" y="183" width="2" height="1" fill="#fff"/>
<rect x="236" y="185" width="4" height="6" fill="#fff"/>
<rect x="238" y="192" width="1.4" height="4" fill="#fff"/>
<rect x="240" y="183" width="2" height="1" fill="#fff"/>
<rect x="242" y="185" width="4" height="6" fill="#fff"/>
<rect x="244" y="192" width="1.4" height="4" fill="#fff"/>
<rect x="246" y="183" width="2" height="1" fill="#fff"/>
<rect x="248" y="185" width="4" height="6" fill="#fff"/>
<rect x="250" y="192" width="1.4" height="4" fill="#fff"/>
<rect x="167" y="185" width="1.4" height="11" fill="#fff"/>
<rect x="80" y="206.5" width="175" height="14.5" fill="#000"/>
<rect x="81" y="208.5" width="1" height="6" fill="#fff"/>
<rect x="83" y="208.5" width="4" height="6" fill="#fff"/>
<rect x="85" y="215.5" width="1.4" height="4" fill="#fff"/>
<rect x="87" y="206.5" width="2" height="1" fill="#fff"/>
<rect x="89" y="208.5" width="4" height="6" fill="#fff"/>
<rect x="91" y="215.5" width="1.4" height="4" fill="#fff"/>
<rect x="93" y="206.5" width="2" height="1" fill="#fff"/>
<rect x="95" y="208.5" width="4" height="6" fill="#fff"/>
<rect x="97" y="215.5" width="1.4" height="4" fill="#fff"/>
<rect x="99" y="206.5" width="2" height="1" fill="#fff"/>
<rect x="101" y="208.5" width="4" height="6" fill="#fff"/>
<rect x="103" y="215.5" width="1.4" height="4" fill="#fff"/>
<rect x="105" y="206.5" width="2" height="1" fill="#fff"/>
<rect x="107" y="208.5" width="4" height="6" fill="#fff"/>
<rect x="109" y="215.5" width="1.4" height="4" fill="#fff"/>
<rect x="111" y="206.5" width="2" height="1" fill="#fff"/>
<rect x="112" y="208.5" width="4" height="6" fill="#fff"/>
<rect x="114" y="215.5" width="1.4" height="4" fill="#fff"/>
<rect x="116" y="206.5" width="2" height="1" fill="#fff"/>
<rect x="118" y="208.5" width="4" height="6" fill="#fff"/>
<rect x="120" y="215.5" width="1.4" height="4" fill="#fff"/>
<rect x="122" y="206.5" width="2" height="1" fill="#fff"/>
<rect x="124" y="208.5" width="4" height="6" fill="#fff"/>
<rect x="126" y="215.5" width="1.4" height="4" fill="#fff"/>
<rect x="128" y="206.5" width="2" height="1" fill="#fff"/>
<rect x="130" y="208.5" width="4" height="6" fill="#fff"/>
<rect x="132" y="215.5" width="1.4" height="4" fill="#fff"/>
<rect x="134" y="206.5" width="2" height="1" fill="#fff"/>
<rect x="136" y="208.5" width="4" height="6" fill="#fff"/>
<rect x="138" y="215.5" width="1.4" height="4" fill="#fff"/>
<rect x="140" y="206.5" width="2" height="1" fill="#fff"/>
<rect x="142" y="208.5" width="4" height="6" fill="#fff"/>
<rect x="144" y="215.5" width="1.4" height="4" fill="#fff"/>
<rect x="146" y="206.5" width="2" height="1" fill="#fff"/>
<rect x="148" y="208.5" width="4" height="6" fill="#fff"/>
<rect x="150" y="215.5" width="1.4" height="4" fill="#fff"/>
<rect x="152" y="206.5" width="2" height="1" fill="#fff"/>
<rect x="154" y="208.5" width="4" height="6" fill="#fff"/>
<rect x="156" y="215.5" width="1.4" height="4" fill="#fff"/>
<rect x="158" y="206.5" width="2" height="1" fill="#fff"/>
<rect x="160" y="208.5" width="4" height="6" fill="#fff"/>
<rect x="162" y="215.5" width="1.4" height="4" fill="#fff"/>
<rect x="164" y="206.5" width="2" height="1" fill="#fff"/>
<rect x="165" y="208.5" width="4" height="6" fill="#fff"/>
<rect x="167" y="215.5" width="1.4" height="4" fill="#fff"/>
<rect x="169" y="206.5" width="2" height="1" fill="#fff"/>
<rect x="171" y="208.5" width="4" height="6" fill="#fff"/>
<rect x="173" y="215.5" width="1.4" height="4" fill="#fff"/>
<rect x="175" y="206.5" width="2" height="1" fill="#fff"/>
<rect x="177" y="208.5" width="4" height="6" fill="#fff"/>
<rect x="179" y="215.5" width="1.4" height="4" fill="#fff"/>
<rect x="181" y="206.5" width="2" height="1" fill="#fff"/>
<rect x="183" y="208.5" width="4" height="6" fill="#fff"/>
<rect x="185" y="215.5" width="1.4" height="4" fill="#fff"/>
<rect x="187" y="206.5" width="2" height="1" fill="#fff"/>
<rect x="189" y="208.5" width="4" height="6" fill="#fff"/>
<rect x="191" y="215.5" width="1.4" height="4" fill="#fff"/>
<rect x="193" y="206.5" width="2" height="1" fill="#fff"/>
<rect x="195" y="208.5" width="4" height="6" fill="#fff"/>
<rect x="197" y="215.5" width="1.4" height="4" fill="#fff"/>
<rect x="199" y="206.5" width="2" height="1" fill="#fff"/>
<rect x="201" y="208.5" width="4" height="6" fill="#fff"/>
<rect x="203" y="215.5" width="1.4" height="4" fill="#fff"/>
<rect x="205" y="206.5" width="2" height="1" fill="#fff"/>
<rect x="207" y="208.5" width="4" height="6" fill="#fff"/>
<rect x="209" y="215.5" width="1.4" height="4" fill="#fff"/>
<rect x="211" y="206.5" width="2" height="1" fill="#fff"/>
<rect x="213" y="208.5" width="4" height="6" fill="#fff"/>
<rect x="215" y="215.5" width="1.4" height="4" fill="#fff"/>
<rect x="217" y="206.5" width="2" height="1" fill="#fff"/>
<rect x="218" y="208.5" width="4" height="6" fill="#fff"/>
<rect x="220" y="215.5" width="1.4" height="4" fill="#fff"/>
<rect x="222" y="206.5" width="2" height="1" fill="#fff"/>
<rect x="224" y="208.5" width="4" height="6" fill="#fff"/>
<rect x="226" y="215.5" width="1.4" height="4" fill="#fff"/>
<rect x="228" y="206.5" width="2" height="1" fill="#fff"/>
<rect x="230" y="208.5" width="4" height="6" fill="#fff"/>
<rect x="232" y="215.5" width="1.4" height="4" fill="#fff"/>
<rect x="234" y="206.5" width="2" height="1" fill="#fff"/>
<rect x="236" y="208.5" width="4" height="6" fill="#fff"/>
<rect x="238" y="215.5" width="1.4" height="4" fill="#fff"/>
<rect x="240" y="206.5" width="2" height="1" fill="#fff"/>
<rect x="242" y="208.5" width="4" height="6" fill="#fff"/>
<rect x="244" y="215.5" width="1.4" height="4" fill="#fff"/>
<rect x="246" y="206.5" width="2" height="1" fill="#fff"/>
<rect x="248" y="208.5" width="4" height="6" fill="#fff"/>
<rect x="250" y="215.5" width="1.4" height="4" fill="#fff"/>
<rect x="167" y="208.5" width="1.4" height="11" fill="#fff"/>
<rect x="62" y="181" width="4" height="17" fill="#000"/>
<rect x="63" y="183" width="1" height="1" fill="#fff"/>
<polygon points="66.5,183.5 75.5,183.5 75.5,192.5 66.5,192.5" fill="#fff" stroke="#000" stroke-width="1"/>
<polygon points="66.5,192.5 68.5,192.5 68.5,190.5 73,190.5 73,197.5 66.5,197.5" fill="#fff" stroke="#000" stroke-width="1"/>
<rect x="269" y="181" width="4" height="17" fill="#000"/>
<rect x="271" y="183" width="1" height="1" fill="#fff"/>
<polygon points="268.5,183.5 259.5,183.5 259.5,192.5 268.5,192.5" fill="#fff" stroke="#000" stroke-width="1"/>
<polygon points="268.5,192.5 266.5,192.5 266.5,190.5 262,190.5 262,197.5 268.5,197.5" fill="#fff" stroke="#000" stroke-width="1"/>
<rect x="62" y="204.5" width="4" height="17.5" fill="#000"/>
<rect x="63" y="207.5" width="1" height="12.5" fill="#fff"/>
<polygon points="66.5,207 75.5,207 75.5,216 66.5,216" fill="#fff" stroke="#000" stroke-width="1"/>
<polygon points="66.5,216 68.5,216 68.5,214 73,214 73,221.5 66.5,221.5" fill="#fff" stroke="#000" stroke-width="1"/>
<rect x="269" y="204.5" width="4" height="17.5" fill="#000"/>
<rect x="271" y="206.5" width="1" height="1" fill="#fff"/>
<polygon points="268.5,207 259.5,207 259.5,216 268.5,216" fill="#fff" stroke="#000" stroke-width="1"/>
<polygon points="268.5,216 266.5,216 266.5,214 262,214 262,221.5 268.5,221.5" fill="#fff" stroke="#000" stroke-width="1"/>
<rect x="62.5" y="199.5" width="14" height="5" fill="#fff" stroke="#000" stroke-width="1"/>
<rect x="80.5" y="199.5" width="30" height="5" fill="#fff" stroke="#000" stroke-width="1"/>
<rect x="115.5" y="199.5" width="30" height="5" fill="#fff" stroke="#000" stroke-width="1"/>
<rect x="153.5" y="199.5" width="30" height="5" fill="#fff" stroke="#000" stroke-width="1"/>
<rect x="190.5" y="199.5" width="30" height="5" fill="#fff" stroke="#000" stroke-width="1"/>
<rect x="226.5" y="199.5" width="30" height="5" fill="#fff" stroke="#000" stroke-width="1"/>
<rect x="260.5" y="199.5" width="14" height="5" fill="#fff" stroke="#000" stroke-width="1"/>
<rect x="54" y="184" width="8" height="1" fill="#000"/>
<rect x="273" y="184" width="8" height="1" fill="#000"/>
<rect x="54" y="191" width="8" height="1" fill="#000"/>
<rect x="273" y="191" width="8" height="1" fill="#000"/>
<rect x="54" y="208.5" width="8" height="1" fill="#000"/>
<rect x="273" y="208.5" width="8" height="1" fill="#000"/>
<rect x="54" y="214.5" width="8" height="1" fill="#000"/>
<rect x="273" y="214.5" width="8" height="1" fill="#000"/>
<rect x="54" y="56" width="227" height="1" fill="#000"/>
<rect x="54" y="97.5" width="227" height="1.5" fill="#000"/>
<rect x="54" y="138.5" width="227" height="1.5" fill="#000"/>
<rect x="54" y="180.5" width="227" height="1.5" fill="#000"/>
<rect x="54" y="222" width="227" height="1" fill="#000"/>
<rect x="142" y="236" width="60" height="60" fill="#000"/>
<rect x="143" y="233" width="56" height="3" fill="#000"/>
<rect x="145" y="296" width="56" height="3" fill="#000"/>
<rect x="139" y="239" width="3" height="57" fill="#000"/>
<rect x="202" y="237" width="3" height="58" fill="#000"/>
<rect x="148" y="233" width="1" height="3" fill="#fff"/>
<rect x="151" y="233" width="1" height="3" fill="#fff"/>
<rect x="165" y="233" width="1" height="3" fill="#fff"/>
<rect x="168" y="233" width="1" height="3" fill="#fff"/>
<rect x="179" y="233" width="1" height="3" fill="#fff"/>
<rect x="182" y="233" width="1" height="3" fill="#fff"/>
<rect x="185" y="233" width="1" height="3" fill="#fff"/>
<rect x="196" y="233" width="1" height="3" fill="#fff"/>
<rect x="150" y="296" width="1" height="3" fill="#fff"/>
<rect x="153" y="296" width="1" height="3" fill="#fff"/>
<rect x="156" y="296" width="1" height="3" fill="#fff"/>
<rect x="170" y="296" width="1" height="3" fill="#fff"/>
<rect x="173" y="296" width="1" height="3" fill="#fff"/>
<rect x="184" y="296" width="1" height="3" fill="#fff"/>
<rect x="187" y="296" width="1" height="3" fill="#fff"/>
<rect x="190" y="296" width="1" height="3" fill="#fff"/>
<rect x="193" y="296" width="1" height="3" fill="#fff"/>
<rect x="139" y="247" width="3" height="1" fill="#fff"/>
<rect x="139" y="250" width="3" height="1" fill="#fff"/>
<rect x="139" y="253" width="3" height="1" fill="#fff"/>
<rect x="139" y="264" width="3" height="1" fill="#fff"/>
<rect x="139" y="267" width="3" height="1" fill="#fff"/>
<rect x="139" y="270" width="3" height="1" fill="#fff"/>
<rect x="139" y="281" width="3" height="1" fill="#fff"/>
<rect x="139" y="284" width="3" height="1" fill="#fff"/>
<rect x="139" y="287" width="3" height="1" fill="#fff"/>
<rect x="139" y="290" width="3" height="1" fill="#fff"/>
<rect x="202" y="238" width="3" height="1" fill="#fff"/>
<rect x="202" y="253" width="3" height="1" fill="#fff"/>
<rect x="202" y="256" width="3" height="1" fill="#fff"/>
<rect x="202" y="259" width="3" height="1" fill="#fff"/>
<rect x="202" y="270" width="3" height="1" fill="#fff"/>
<rect x="202" y="273" width="3" height="1" fill="#fff"/>
<rect x="202" y="276" width="3" height="1" fill="#fff"/>
<rect x="202" y="287" width="3" height="1" fill="#fff"/>
<rect x="202" y="290" width="3" height="1" fill="#fff"/>
<rect x="202" y="293" width="3" height="1" fill="#fff"/>
<rect x="303" y="216" width="59" height="60" fill="#000"/>
<rect x="304" y="213" width="55" height="3" fill="#000"/>
<rect x="306" y="276" width="55" height="3" fill="#000"/>
<rect x="300" y="219" width="3" height="57" fill="#000"/>
<rect x="362" y="217" width="3" height="58" fill="#000"/>
<rect x="309" y="213" width="1" height="3" fill="#fff"/>
<rect x="312" y="213" width="1" height="3" fill="#fff"/>
<rect x="315" y="213" width="1" height="3" fill="#fff"/>
<rect x="326" y="213" width="1" height="3" fill="#fff"/>
<rect x="329" y="213" width="1" height="3" fill="#fff"/>
<rect x="332" y="213" width="1" height="3" fill="#fff"/>
<rect x="343" y="213" width="1" height="3" fill="#fff"/>
<rect x="346" y="213" width="1" height="3" fill="#fff"/>
<rect x="349" y="213" width="1" height="3" fill="#fff"/>
<rect x="314" y="276" width="1" height="3" fill="#fff"/>
<rect x="317" y="276" width="1" height="3" fill="#fff"/>
<rect x="320" y="276" width="1" height="3" fill="#fff"/>
<rect x="331" y="276" width="1" height="3" fill="#fff"/>
<rect x="334" y="276" width="1" height="3" fill="#fff"/>
<rect x="337" y="276" width="1" height="3" fill="#fff"/>
<rect x="348" y="276" width="1" height="3" fill="#fff"/>
<rect x="351" y="276" width="1" height="3" fill="#fff"/>
<rect x="354" y="276" width="1" height="3" fill="#fff"/>
<rect x="300" y="219" width="3" height="1" fill="#fff"/>
<rect x="300" y="233" width="3" height="1" fill="#fff"/>
<rect x="300" y="236" width="3" height="1" fill="#fff"/>
<rect x="300" y="239" width="3" height="1" fill="#fff"/>
<rect x="300" y="242" width="3" height="1" fill="#fff"/>
<rect x="300" y="253" width="3" height="1" fill="#fff"/>
<rect x="300" y="256" width="3" height="1" fill="#fff"/>
<rect x="300" y="259" width="3" height="1" fill="#fff"/>
<rect x="300" y="267" width="3" height="1" fill="#fff"/>
<rect x="300" y="270" width="3" height="1" fill="#fff"/>
<rect x="300" y="273" width="3" height="1" fill="#fff"/>
<rect x="362" y="222" width="3" height="1" fill="#fff"/>
<rect x="362" y="225" width="3" height="1" fill="#fff"/>
<rect x="362" y="228" width="3" height="1" fill="#fff"/>
<rect x="362" y="231" width="3" height="1" fill="#fff"/>
<rect x="362" y="242" width="3" height="1" fill="#fff"/>
<rect x="362" y="245" width="3" height="1" fill="#fff"/>
<rect x="362" y="248" width="3" height="1" fill="#fff"/>
<rect x="362" y="259" width="3" height="1" fill="#fff"/>
<rect x="362" y="262" width="3" height="1" fill="#fff"/>
<rect x="362" y="265" width="3" height="1" fill="#fff"/>
<rect x="424" y="411" width="61" height="60" fill="#000"/>
<rect x="425" y="408" width="57" height="3" fill="#000"/>
<rect x="427" y="471" width="57" height="3" fill="#000"/>
<rect x="421" y="414" width="3" height="57" fill="#000"/>
<rect x="485" y="412" width="3" height="58" fill="#000"/>
<rect x="430" y="408" width="1" height="3" fill="#fff"/>
<rect x="433" y="408" width="1" height="3" fill="#fff"/>
<rect x="436" y="408" width="1" height="3" fill="#fff"/>
<rect x="447" y="408" width="1" height="3" fill="#fff"/>
<rect x="450" y="408" width="1" height="3" fill="#fff"/>
<rect x="453" y="408" width="1" height="3" fill="#fff"/>
<rect x="461" y="408" width="1" height="3" fill="#fff"/>
<rect x="464" y="408" width="1" height="3" fill="#fff"/>
<rect x="467" y="408" width="1" height="3" fill="#fff"/>
<rect x="470" y="408" width="1" height="3" fill="#fff"/>
<rect x="427" y="471" width="1" height="3" fill="#fff"/>
<rect x="435" y="471" width="1" height="3" fill="#fff"/>
<rect x="438" y="471" width="1" height="3" fill="#fff"/>
<rect x="441" y="471" width="1" height="3" fill="#fff"/>
<rect x="452" y="471" width="1" height="3" fill="#fff"/>
<rect x="455" y="471" width="1" height="3" fill="#fff"/>
<rect x="458" y="471" width="1" height="3" fill="#fff"/>
<rect x="469" y="471" width="1" height="3" fill="#fff"/>
<rect x="472" y="471" width="1" height="3" fill="#fff"/>
<rect x="475" y="471" width="1" height="3" fill="#fff"/>
<rect x="421" y="414" width="3" height="1" fill="#fff"/>
<rect x="421" y="417" width="3" height="1" fill="#fff"/>
<rect x="421" y="428" width="3" height="1" fill="#fff"/>
<rect x="421" y="431" width="3" height="1" fill="#fff"/>
<rect x="421" y="434" width="3" height="1" fill="#fff"/>
<rect x="421" y="445" width="3" height="1" fill="#fff"/>
<rect x="421" y="448" width="3" height="1" fill="#fff"/>
<rect x="421" y="451" width="3" height="1" fill="#fff"/>
<rect x="421" y="462" width="3" height="1" fill="#fff"/>
<rect x="421" y="465" width="3" height="1" fill="#fff"/>
<rect x="485" y="417" width="3" height="1" fill="#fff"/>
<rect x="485" y="420" width="3" height="1" fill="#fff"/>
<rect x="485" y="431" width="3" height="1" fill="#fff"/>
<rect x="485" y="434" width="3" height="1" fill="#fff"/>
<rect x="485" y="437" width="3" height="1" fill="#fff"/>
<rect x="485" y="448" width="3" height="1" fill="#fff"/>
<rect x="485" y="451" width="3" height="1" fill="#fff"/>
<rect x="485" y="454" width="3" height="1" fill="#fff"/>
<rect x="485" y="465" width="3" height="1" fill="#fff"/>
<rect x="485" y="468" width="3" height="1" fill="#fff"/>
<rect x="37" y="364" width="84" height="23" fill="#000"/>
<rect x="39" y="366" width="4" height="4" fill="#fff"/>
<rect x="39" y="380" width="4" height="5" fill="#fff"/>
<rect x="45" y="366" width="4" height="4" fill="#fff"/>
<rect x="45" y="380" width="4" height="5" fill="#fff"/>
<rect x="51" y="366" width="4" height="4" fill="#fff"/>
<rect x="51" y="380" width="4" height="5" fill="#fff"/>
<rect x="57" y="366" width="4" height="4" fill="#fff"/>
<rect x="57" y="380" width="4" height="5" fill="#fff"/>
<rect x="63" y="366" width="4" height="4" fill="#fff"/>
<rect x="63" y="380" width="4" height="5" fill="#fff"/>
<rect x="69" y="366" width="4" height="4" fill="#fff"/>
<rect x="69" y="380" width="4" height="5" fill="#fff"/>
<rect x="74" y="366" width="4" height="4" fill="#fff"/>
<rect x="74" y="380" width="4" height="5" fill="#fff"/>
<rect x="80" y="366" width="4" height="4" fill="#fff"/>
<rect x="80" y="380" width="4" height="5" fill="#fff"/>
<rect x="86" y="366" width="4" height="4" fill="#fff"/>
<rect x="86" y="380" width="4" height="5" fill="#fff"/>
<rect x="92" y="366" width="4" height="4" fill="#fff"/>
<rect x="92" y="380" width="4" height="5" fill="#fff"/>
<rect x="98" y="366" width="4" height="4" fill="#fff"/>
<rect x="98" y="380" width="4" height="5" fill="#fff"/>
<rect x="104" y="366" width="4" height="4" fill="#fff"/>
<rect x="104" y="380" width="4" height="5" fill="#fff"/>
<rect x="110" y="366" width="4" height="4" fill="#fff"/>
<rect x="110" y="380" width="4" height="5" fill="#fff"/>
<rect x="116" y="366" width="4" height="4" fill="#fff"/>
<rect x="116" y="380" width="4" height="5" fill="#fff"/>
<rect x="44" y="372" width="34" height="6" fill="#fff"/>
<rect x="83" y="372" width="33" height="6" fill="#fff"/>
<polygon points="37,373.5 39.6,375.5 37,377.5" fill="#fff" shape-rendering="geometricPrecision"/>
<rect x="126" y="364" width="85" height="23" fill="#000"/>
<rect x="128" y="366" width="4" height="4" fill="#fff"/>
<rect x="128" y="380" width="4" height="5" fill="#fff"/>
<rect x="134" y="366" width="4" height="4" fill="#fff"/>
<rect x="134" y="380" width="4" height="5" fill="#fff"/>
<rect x="140" y="366" width="4" height="4" fill="#fff"/>
<rect x="140" y="380" width="4" height="5" fill="#fff"/>
<rect x="146" y="366" width="4" height="4" fill="#fff"/>
<rect x="146" y="380" width="4" height="5" fill="#fff"/>
<rect x="152" y="366" width="4" height="4" fill="#fff"/>
<rect x="152" y="380" width="4" height="5" fill="#fff"/>
<rect x="158" y="366" width="4" height="4" fill="#fff"/>
<rect x="158" y="380" width="4" height="5" fill="#fff"/>
<rect x="163" y="366" width="4" height="4" fill="#fff"/>
<rect x="163" y="380" width="4" height="5" fill="#fff"/>
<rect x="169" y="366" width="4" height="4" fill="#fff"/>
<rect x="169" y="380" width="4" height="5" fill="#fff"/>
<rect x="175" y="366" width="4" height="4" fill="#fff"/>
<rect x="175" y="380" width="4" height="5" fill="#fff"/>
<rect x="181" y="366" width="4" height="4" fill="#fff"/>
<rect x="181" y="380" width="4" height="5" fill="#fff"/>
<rect x="187" y="366" width="4" height="4" fill="#fff"/>
<rect x="187" y="380" width="4" height="5" fill="#fff"/>
<rect x="193" y="366" width="4" height="4" fill="#fff"/>
<rect x="193" y="380" width="4" height="5" fill="#fff"/>
<rect x="199" y="366" width="4" height="4" fill="#fff"/>
<rect x="199" y="380" width="4" height="5" fill="#fff"/>
<rect x="205" y="366" width="4" height="4" fill="#fff"/>
<rect x="205" y="380" width="4" height="5" fill="#fff"/>
<rect x="133" y="372" width="34" height="6" fill="#fff"/>
<rect x="172" y="372" width="34" height="6" fill="#fff"/>
<polygon points="126,373.5 128.6,375.5 126,377.5" fill="#fff" shape-rendering="geometricPrecision"/>
<rect x="37" y="389.5" width="84" height="23" fill="#000"/>
<rect x="39" y="391.5" width="4" height="4" fill="#fff"/>
<rect x="39" y="405.5" width="4" height="5" fill="#fff"/>
<rect x="45" y="391.5" width="4" height="4" fill="#fff"/>
<rect x="45" y="405.5" width="4" height="5" fill="#fff"/>
<rect x="51" y="391.5" width="4" height="4" fill="#fff"/>
<rect x="51" y="405.5" width="4" height="5" fill="#fff"/>
<rect x="57" y="391.5" width="4" height="4" fill="#fff"/>
<rect x="57" y="405.5" width="4" height="5" fill="#fff"/>
<rect x="63" y="391.5" width="4" height="4" fill="#fff"/>
<rect x="63" y="405.5" width="4" height="5" fill="#fff"/>
<rect x="69" y="391.5" width="4" height="4" fill="#fff"/>
<rect x="69" y="405.5" width="4" height="5" fill="#fff"/>
<rect x="74" y="391.5" width="4" height="4" fill="#fff"/>
<rect x="74" y="405.5" width="4" height="5" fill="#fff"/>
<rect x="80" y="391.5" width="4" height="4" fill="#fff"/>
<rect x="80" y="405.5" width="4" height="5" fill="#fff"/>
<rect x="86" y="391.5" width="4" height="4" fill="#fff"/>
<rect x="86" y="405.5" width="4" height="5" fill="#fff"/>
<rect x="92" y="391.5" width="4" height="4" fill="#fff"/>
<rect x="92" y="405.5" width="4" height="5" fill="#fff"/>
<rect x="98" y="391.5" width="4" height="4" fill="#fff"/>
<rect x="98" y="405.5" width="4" height="5" fill="#fff"/>
<rect x="104" y="391.5" width="4" height="4" fill="#fff"/>
<rect x="104" y="405.5" width="4" height="5" fill="#fff"/>
<rect x="110" y="391.5" width="4" height="4" fill="#fff"/>
<rect x="110" y="405.5" width="4" height="5" fill="#fff"/>
<rect x="116" y="391.5" width="4" height="4" fill="#fff"/>
<rect x="116" y="405.5" width="4" height="5" fill="#fff"/>
<rect x="44" y="397.5" width="34" height="6" fill="#fff"/>
<rect x="83" y="397.5" width="33" height="6" fill="#fff"/>
<polygon points="37,399.0 39.6,401.0 37,403.0" fill="#fff" shape-rendering="geometricPrecision"/>
<rect x="126" y="389.5" width="85" height="23" fill="#000"/>
<rect x="128" y="391.5" width="4" height="4" fill="#fff"/>
<rect x="128" y="405.5" width="4" height="5" fill="#fff"/>
<rect x="134" y="391.5" width="4" height="4" fill="#fff"/>
<rect x="134" y="405.5" width="4" height="5" fill="#fff"/>
<rect x="140" y="391.5" width="4" height="4" fill="#fff"/>
<rect x="140" y="405.5" width="4" height="5" fill="#fff"/>
<rect x="146" y="391.5" width="4" height="4" fill="#fff"/>
<rect x="146" y="405.5" width="4" height="5" fill="#fff"/>
<rect x="152" y="391.5" width="4" height="4" fill="#fff"/>
<rect x="152" y="405.5" width="4" height="5" fill="#fff"/>
<rect x="158" y="391.5" width="4" height="4" fill="#fff"/>
<rect x="158" y="405.5" width="4" height="5" fill="#fff"/>
<rect x="163" y="391.5" width="4" height="4" fill="#fff"/>
<rect x="163" y="405.5" width="4" height="5" fill="#fff"/>
<rect x="169" y="391.5" width="4" height="4" fill="#fff"/>
<rect x="169" y="405.5" width="4" height="5" fill="#fff"/>
<rect x="175" y="391.5" width="4" height="4" fill="#fff"/>
<rect x="175" y="405.5" width="4" height="5" fill="#fff"/>
<rect x="181" y="391.5" width="4" height="4" fill="#fff"/>
<rect x="181" y="405.5" width="4" height="5" fill="#fff"/>
<rect x="187" y="391.5" width="4" height="4" fill="#fff"/>
<rect x="187" y="405.5" width="4" height="5" fill="#fff"/>
<rect x="193" y="391.5" width="4" height="4" fill="#fff"/>
<rect x="193" y="405.5" width="4" height="5" fill="#fff"/>
<rect x="199" y="391.5" width="4" height="4" fill="#fff"/>
<rect x="199" y="405.5" width="4" height="5" fill="#fff"/>
<rect x="205" y="391.5" width="4" height="4" fill="#fff"/>
<rect x="205" y="405.5" width="4" height="5" fill="#fff"/>
<rect x="133" y="397.5" width="34" height="6" fill="#fff"/>
<rect x="172" y="397.5" width="34" height="6" fill="#fff"/>
<polygon points="126,399.0 128.6,401.0 126,403.0" fill="#fff" shape-rendering="geometricPrecision"/>
<rect x="37" y="415" width="84" height="24" fill="#000"/>
<rect x="39" y="417" width="4" height="4" fill="#fff"/>
<rect x="39" y="432" width="4" height="5" fill="#fff"/>
<rect x="45" y="417" width="4" height="4" fill="#fff"/>
<rect x="45" y="432" width="4" height="5" fill="#fff"/>
<rect x="51" y="417" width="4" height="4" fill="#fff"/>
<rect x="51" y="432" width="4" height="5" fill="#fff"/>
<rect x="57" y="417" width="4" height="4" fill="#fff"/>
<rect x="57" y="432" width="4" height="5" fill="#fff"/>
<rect x="63" y="417" width="4" height="4" fill="#fff"/>
<rect x="63" y="432" width="4" height="5" fill="#fff"/>
<rect x="69" y="417" width="4" height="4" fill="#fff"/>
<rect x="69" y="432" width="4" height="5" fill="#fff"/>
<rect x="74" y="417" width="4" height="4" fill="#fff"/>
<rect x="74" y="432" width="4" height="5" fill="#fff"/>
<rect x="80" y="417" width="4" height="4" fill="#fff"/>
<rect x="80" y="432" width="4" height="5" fill="#fff"/>
<rect x="86" y="417" width="4" height="4" fill="#fff"/>
<rect x="86" y="432" width="4" height="5" fill="#fff"/>
<rect x="92" y="417" width="4" height="4" fill="#fff"/>
<rect x="92" y="432" width="4" height="5" fill="#fff"/>
<rect x="98" y="417" width="4" height="4" fill="#fff"/>
<rect x="98" y="432" width="4" height="5" fill="#fff"/>
<rect x="104" y="417" width="4" height="4" fill="#fff"/>
<rect x="104" y="432" width="4" height="5" fill="#fff"/>
<rect x="110" y="417" width="4" height="4" fill="#fff"/>
<rect x="110" y="432" width="4" height="5" fill="#fff"/>
<rect x="116" y="417" width="4" height="4" fill="#fff"/>
<rect x="116" y="432" width="4" height="5" fill="#fff"/>
<rect x="44" y="423" width="34" height="7" fill="#fff"/>
<rect x="83" y="423" width="33" height="7" fill="#fff"/>
<polygon points="37,424.5 39.6,426.5 37,428.5" fill="#fff" shape-rendering="geometricPrecision"/>
<rect x="126" y="415" width="85" height="24" fill="#000"/>
<rect x="128" y="417" width="4" height="4" fill="#fff"/>
<rect x="128" y="432" width="4" height="5" fill="#fff"/>
<rect x="134" y="417" width="4" height="4" fill="#fff"/>
<rect x="134" y="432" width="4" height="5" fill="#fff"/>
<rect x="140" y="417" width="4" height="4" fill="#fff"/>
<rect x="140" y="432" width="4" height="5" fill="#fff"/>
<rect x="146" y="417" width="4" height="4" fill="#fff"/>
<rect x="146" y="432" width="4" height="5" fill="#fff"/>
<rect x="152" y="417" width="4" height="4" fill="#fff"/>
<rect x="152" y="432" width="4" height="5" fill="#fff"/>
<rect x="158" y="417" width="4" height="4" fill="#fff"/>
<rect x="158" y="432" width="4" height="5" fill="#fff"/>
<rect x="163" y="417" width="4" height="4" fill="#fff"/>
<rect x="163" y="432" width="4" height="5" fill="#fff"/>
<rect x="169" y="417" width="4" height="4" fill="#fff"/>
<rect x="169" y="432" width="4" height="5" fill="#fff"/>
<rect x="175" y="417" width="4" height="4" fill="#fff"/>
<rect x="175" y="432" width="4" height="5" fill="#fff"/>
<rect x="181" y="417" width="4" height="4" fill="#fff"/>
<rect x="181" y="432" width="4" height="5" fill="#fff"/>
<rect x="187" y="417" width="4" height="4" fill="#fff"/>
<rect x="187" y="432" width="4" height="5" fill="#fff"/>
<rect x="193" y="417" width="4" height="4" fill="#fff"/>
<rect x="193" y="432" width="4" height="5" fill="#fff"/>
<rect x="199" y="417" width="4" height="4" fill="#fff"/>
<rect x="199" y="432" width="4" height="5" fill="#fff"/>
<rect x="205" y="417" width="4" height="4" fill="#fff"/>
<rect x="205" y="432" width="4" height="5" fill="#fff"/>
<rect x="133" y="423" width="34" height="7" fill="#fff"/>
<rect x="172" y="423" width="34" height="7" fill="#fff"/>
<polygon points="126,424.5 128.6,426.5 126,428.5" fill="#fff" shape-rendering="geometricPrecision"/>
<rect x="37" y="441.5" width="84" height="24.5" fill="#000"/>
<rect x="39" y="443.5" width="4" height="4" fill="#fff"/>
<rect x="39" y="459" width="4" height="5" fill="#fff"/>
<rect x="45" y="443.5" width="4" height="4" fill="#fff"/>
<rect x="45" y="459" width="4" height="5" fill="#fff"/>
<rect x="51" y="443.5" width="4" height="4" fill="#fff"/>
<rect x="51" y="459" width="4" height="5" fill="#fff"/>
<rect x="57" y="443.5" width="4" height="4" fill="#fff"/>
<rect x="57" y="459" width="4" height="5" fill="#fff"/>
<rect x="63" y="443.5" width="4" height="4" fill="#fff"/>
<rect x="63" y="459" width="4" height="5" fill="#fff"/>
<rect x="69" y="443.5" width="4" height="4" fill="#fff"/>
<rect x="69" y="459" width="4" height="5" fill="#fff"/>
<rect x="74" y="443.5" width="4" height="4" fill="#fff"/>
<rect x="74" y="459" width="4" height="5" fill="#fff"/>
<rect x="80" y="443.5" width="4" height="4" fill="#fff"/>
<rect x="80" y="459" width="4" height="5" fill="#fff"/>
<rect x="86" y="443.5" width="4" height="4" fill="#fff"/>
<rect x="86" y="459" width="4" height="5" fill="#fff"/>
<rect x="92" y="443.5" width="4" height="4" fill="#fff"/>
<rect x="92" y="459" width="4" height="5" fill="#fff"/>
<rect x="98" y="443.5" width="4" height="4" fill="#fff"/>
<rect x="98" y="459" width="4" height="5" fill="#fff"/>
<rect x="104" y="443.5" width="4" height="4" fill="#fff"/>
<rect x="104" y="459" width="4" height="5" fill="#fff"/>
<rect x="110" y="443.5" width="4" height="4" fill="#fff"/>
<rect x="110" y="459" width="4" height="5" fill="#fff"/>
<rect x="116" y="443.5" width="4" height="4" fill="#fff"/>
<rect x="116" y="459" width="4" height="5" fill="#fff"/>
<rect x="44" y="449.5" width="34" height="7.5" fill="#fff"/>
<rect x="83" y="449.5" width="33" height="7.5" fill="#fff"/>
<polygon points="37,451.0 39.6,453.0 37,455.0" fill="#fff" shape-rendering="geometricPrecision"/>
<rect x="126" y="441.5" width="85" height="24.5" fill="#000"/>
<rect x="128" y="443.5" width="4" height="4" fill="#fff"/>
<rect x="128" y="459" width="4" height="5" fill="#fff"/>
<rect x="134" y="443.5" width="4" height="4" fill="#fff"/>
<rect x="134" y="459" width="4" height="5" fill="#fff"/>
<rect x="140" y="443.5" width="4" height="4" fill="#fff"/>
<rect x="140" y="459" width="4" height="5" fill="#fff"/>
<rect x="146" y="443.5" width="4" height="4" fill="#fff"/>
<rect x="146" y="459" width="4" height="5" fill="#fff"/>
<rect x="152" y="443.5" width="4" height="4" fill="#fff"/>
<rect x="152" y="459" width="4" height="5" fill="#fff"/>
<rect x="158" y="443.5" width="4" height="4" fill="#fff"/>
<rect x="158" y="459" width="4" height="5" fill="#fff"/>
<rect x="163" y="443.5" width="4" height="4" fill="#fff"/>
<rect x="163" y="459" width="4" height="5" fill="#fff"/>
<rect x="169" y="443.5" width="4" height="4" fill="#fff"/>
<rect x="169" y="459" width="4" height="5" fill="#fff"/>
<rect x="175" y="443.5" width="4" height="4" fill="#fff"/>
<rect x="175" y="459" width="4" height="5" fill="#fff"/>
<rect x="181" y="443.5" width="4" height="4" fill="#fff"/>
<rect x="181" y="459" width="4" height="5" fill="#fff"/>
<rect x="187" y="443.5" width="4" height="4" fill="#fff"/>
<rect x="187" y="459" width="4" height="5" fill="#fff"/>
<rect x="193" y="443.5" width="4" height="4" fill="#fff"/>
<rect x="193" y="459" width="4" height="5" fill="#fff"/>
<rect x="199" y="443.5" width="4" height="4" fill="#fff"/>
<rect x="199" y="459" width="4" height="5" fill="#fff"/>
<rect x="205" y="443.5" width="4" height="4" fill="#fff"/>
<rect x="205" y="459" width="4" height="5" fill="#fff"/>
<rect x="133" y="449.5" width="34" height="7.5" fill="#fff"/>
<rect x="172" y="449.5" width="34" height="7.5" fill="#fff"/>
<polygon points="126,451.0 128.6,453.0 126,455.0" fill="#fff" shape-rendering="geometricPrecision"/>
<polyline points="34.5,361.5 38,354.5 116,354.5 120.5,349 125,354.5 208,354.5 213,361.5" fill="none" stroke="#000" stroke-width="1"/>
<rect x="37" y="413" width="84" height="1" fill="#fff"/>
<rect x="126" y="413" width="85" height="1" fill="#fff"/>
<polygon points="278,339 346,339 352,345 352,414 278,414" fill="#000"/>
<circle cx="344.5" cy="347.2" r="3.3" fill="#fff"/>
<rect x="301" y="369" width="28" height="15" rx="2.5" fill="#fff"/>
<text transform="translate(302,381) scale(0.780,1)" font-size="14.53" fill="#000" stroke="#000" stroke-width="0.3"><tspan x="-0.74" letter-spacing="1.80">CPU</tspan></text>
<rect x="274" y="427" width="79" height="81" fill="#000"/>
<circle cx="278.2" cy="432.3" r="1.5" fill="#fff" shape-rendering="geometricPrecision"/>
<circle cx="284.1" cy="432.3" r="1.5" fill="#fff" shape-rendering="geometricPrecision"/>
<circle cx="289.9" cy="432.3" r="1.5" fill="#fff" shape-rendering="geometricPrecision"/>
<circle cx="295.8" cy="432.3" r="1.5" fill="#fff" shape-rendering="geometricPrecision"/>
<circle cx="301.7" cy="432.3" r="1.5" fill="#fff" shape-rendering="geometricPrecision"/>
<circle cx="307.6" cy="432.3" r="1.5" fill="#fff" shape-rendering="geometricPrecision"/>
<circle cx="313.4" cy="432.3" r="1.5" fill="#fff" shape-rendering="geometricPrecision"/>
<circle cx="319.3" cy="432.3" r="1.5" fill="#fff" shape-rendering="geometricPrecision"/>
<circle cx="325.2" cy="432.3" r="1.5" fill="#fff" shape-rendering="geometricPrecision"/>
<circle cx="331.0" cy="432.3" r="1.5" fill="#fff" shape-rendering="geometricPrecision"/>
<circle cx="336.9" cy="432.3" r="1.5" fill="#fff" shape-rendering="geometricPrecision"/>
<circle cx="342.8" cy="432.3" r="1.5" fill="#fff" shape-rendering="geometricPrecision"/>
<circle cx="348.6" cy="432.3" r="1.5" fill="#fff" shape-rendering="geometricPrecision"/>
<circle cx="278.2" cy="438.2" r="1.5" fill="#fff" shape-rendering="geometricPrecision"/>
<circle cx="284.1" cy="438.2" r="1.5" fill="#fff" shape-rendering="geometricPrecision"/>
<circle cx="289.9" cy="438.2" r="1.5" fill="#fff" shape-rendering="geometricPrecision"/>
<circle cx="295.8" cy="438.2" r="1.5" fill="#fff" shape-rendering="geometricPrecision"/>
<circle cx="301.7" cy="438.2" r="1.5" fill="#fff" shape-rendering="geometricPrecision"/>
<circle cx="307.6" cy="438.2" r="1.5" fill="#fff" shape-rendering="geometricPrecision"/>
<circle cx="313.4" cy="438.2" r="1.5" fill="#fff" shape-rendering="geometricPrecision"/>
<circle cx="319.3" cy="438.2" r="1.5" fill="#fff" shape-rendering="geometricPrecision"/>
<circle cx="325.2" cy="438.2" r="1.5" fill="#fff" shape-rendering="geometricPrecision"/>
<circle cx="331.0" cy="438.2" r="1.5" fill="#fff" shape-rendering="geometricPrecision"/>
<circle cx="336.9" cy="438.2" r="1.5" fill="#fff" shape-rendering="geometricPrecision"/>
<circle cx="342.8" cy="438.2" r="1.5" fill="#fff" shape-rendering="geometricPrecision"/>
<circle cx="348.6" cy="438.2" r="1.5" fill="#fff" shape-rendering="geometricPrecision"/>
<circle cx="278.2" cy="444.2" r="1.5" fill="#fff" shape-rendering="geometricPrecision"/>
<circle cx="284.1" cy="444.2" r="1.5" fill="#fff" shape-rendering="geometricPrecision"/>
<circle cx="289.9" cy="444.2" r="1.5" fill="#fff" shape-rendering="geometricPrecision"/>
<circle cx="295.8" cy="444.2" r="1.5" fill="#fff" shape-rendering="geometricPrecision"/>
<circle cx="301.7" cy="444.2" r="1.5" fill="#fff" shape-rendering="geometricPrecision"/>
<circle cx="307.6" cy="444.2" r="1.5" fill="#fff" shape-rendering="geometricPrecision"/>
<circle cx="313.4" cy="444.2" r="1.5" fill="#fff" shape-rendering="geometricPrecision"/>
<circle cx="319.3" cy="444.2" r="1.5" fill="#fff" shape-rendering="geometricPrecision"/>
<circle cx="325.2" cy="444.2" r="1.5" fill="#fff" shape-rendering="geometricPrecision"/>
<circle cx="331.0" cy="444.2" r="1.5" fill="#fff" shape-rendering="geometricPrecision"/>
<circle cx="336.9" cy="444.2" r="1.5" fill="#fff" shape-rendering="geometricPrecision"/>
<circle cx="342.8" cy="444.2" r="1.5" fill="#fff" shape-rendering="geometricPrecision"/>
<circle cx="348.6" cy="444.2" r="1.5" fill="#fff" shape-rendering="geometricPrecision"/>
<circle cx="278.2" cy="450.1" r="1.5" fill="#fff" shape-rendering="geometricPrecision"/>
<circle cx="284.1" cy="450.1" r="1.5" fill="#fff" shape-rendering="geometricPrecision"/>
<circle cx="289.9" cy="450.1" r="1.5" fill="#fff" shape-rendering="geometricPrecision"/>
<circle cx="336.9" cy="450.1" r="1.5" fill="#fff" shape-rendering="geometricPrecision"/>
<circle cx="342.8" cy="450.1" r="1.5" fill="#fff" shape-rendering="geometricPrecision"/>
<circle cx="348.6" cy="450.1" r="1.5" fill="#fff" shape-rendering="geometricPrecision"/>
<circle cx="278.2" cy="456.0" r="1.5" fill="#fff" shape-rendering="geometricPrecision"/>
<circle cx="284.1" cy="456.0" r="1.5" fill="#fff" shape-rendering="geometricPrecision"/>
<circle cx="289.9" cy="456.0" r="1.5" fill="#fff" shape-rendering="geometricPrecision"/>
<circle cx="336.9" cy="456.0" r="1.5" fill="#fff" shape-rendering="geometricPrecision"/>
<circle cx="342.8" cy="456.0" r="1.5" fill="#fff" shape-rendering="geometricPrecision"/>
<circle cx="348.6" cy="456.0" r="1.5" fill="#fff" shape-rendering="geometricPrecision"/>
<circle cx="278.2" cy="461.9" r="1.5" fill="#fff" shape-rendering="geometricPrecision"/>
<circle cx="284.1" cy="461.9" r="1.5" fill="#fff" shape-rendering="geometricPrecision"/>
<circle cx="289.9" cy="461.9" r="1.5" fill="#fff" shape-rendering="geometricPrecision"/>
<circle cx="336.9" cy="461.9" r="1.5" fill="#fff" shape-rendering="geometricPrecision"/>
<circle cx="342.8" cy="461.9" r="1.5" fill="#fff" shape-rendering="geometricPrecision"/>
<circle cx="348.6" cy="461.9" r="1.5" fill="#fff" shape-rendering="geometricPrecision"/>
<circle cx="278.2" cy="467.9" r="1.5" fill="#fff" shape-rendering="geometricPrecision"/>
<circle cx="284.1" cy="467.9" r="1.5" fill="#fff" shape-rendering="geometricPrecision"/>
<circle cx="289.9" cy="467.9" r="1.5" fill="#fff" shape-rendering="geometricPrecision"/>
<circle cx="336.9" cy="467.9" r="1.5" fill="#fff" shape-rendering="geometricPrecision"/>
<circle cx="342.8" cy="467.9" r="1.5" fill="#fff" shape-rendering="geometricPrecision"/>
<circle cx="348.6" cy="467.9" r="1.5" fill="#fff" shape-rendering="geometricPrecision"/>
<circle cx="278.2" cy="473.8" r="1.5" fill="#fff" shape-rendering="geometricPrecision"/>
<circle cx="284.1" cy="473.8" r="1.5" fill="#fff" shape-rendering="geometricPrecision"/>
<circle cx="289.9" cy="473.8" r="1.5" fill="#fff" shape-rendering="geometricPrecision"/>
<circle cx="336.9" cy="473.8" r="1.5" fill="#fff" shape-rendering="geometricPrecision"/>
<circle cx="342.8" cy="473.8" r="1.5" fill="#fff" shape-rendering="geometricPrecision"/>
<circle cx="348.6" cy="473.8" r="1.5" fill="#fff" shape-rendering="geometricPrecision"/>
<circle cx="278.2" cy="479.7" r="1.5" fill="#fff" shape-rendering="geometricPrecision"/>
<circle cx="284.1" cy="479.7" r="1.5" fill="#fff" shape-rendering="geometricPrecision"/>
<circle cx="289.9" cy="479.7" r="1.5" fill="#fff" shape-rendering="geometricPrecision"/>
<circle cx="336.9" cy="479.7" r="1.5" fill="#fff" shape-rendering="geometricPrecision"/>
<circle cx="342.8" cy="479.7" r="1.5" fill="#fff" shape-rendering="geometricPrecision"/>
<circle cx="348.6" cy="479.7" r="1.5" fill="#fff" shape-rendering="geometricPrecision"/>
<circle cx="278.2" cy="485.7" r="1.5" fill="#fff" shape-rendering="geometricPrecision"/>
<circle cx="284.1" cy="485.7" r="1.5" fill="#fff" shape-rendering="geometricPrecision"/>
<circle cx="289.9" cy="485.7" r="1.5" fill="#fff" shape-rendering="geometricPrecision"/>
<circle cx="336.9" cy="485.7" r="1.5" fill="#fff" shape-rendering="geometricPrecision"/>
<circle cx="342.8" cy="485.7" r="1.5" fill="#fff" shape-rendering="geometricPrecision"/>
<circle cx="348.6" cy="485.7" r="1.5" fill="#fff" shape-rendering="geometricPrecision"/>
<circle cx="278.2" cy="491.6" r="1.5" fill="#fff" shape-rendering="geometricPrecision"/>
<circle cx="284.1" cy="491.6" r="1.5" fill="#fff" shape-rendering="geometricPrecision"/>
<circle cx="289.9" cy="491.6" r="1.5" fill="#fff" shape-rendering="geometricPrecision"/>
<circle cx="295.8" cy="491.6" r="1.5" fill="#fff" shape-rendering="geometricPrecision"/>
<circle cx="301.7" cy="491.6" r="1.5" fill="#fff" shape-rendering="geometricPrecision"/>
<circle cx="307.6" cy="491.6" r="1.5" fill="#fff" shape-rendering="geometricPrecision"/>
<circle cx="313.4" cy="491.6" r="1.5" fill="#fff" shape-rendering="geometricPrecision"/>
<circle cx="319.3" cy="491.6" r="1.5" fill="#fff" shape-rendering="geometricPrecision"/>
<circle cx="325.2" cy="491.6" r="1.5" fill="#fff" shape-rendering="geometricPrecision"/>
<circle cx="331.0" cy="491.6" r="1.5" fill="#fff" shape-rendering="geometricPrecision"/>
<circle cx="336.9" cy="491.6" r="1.5" fill="#fff" shape-rendering="geometricPrecision"/>
<circle cx="342.8" cy="491.6" r="1.5" fill="#fff" shape-rendering="geometricPrecision"/>
<circle cx="348.6" cy="491.6" r="1.5" fill="#fff" shape-rendering="geometricPrecision"/>
<circle cx="278.2" cy="497.5" r="1.5" fill="#fff" shape-rendering="geometricPrecision"/>
<circle cx="284.1" cy="497.5" r="1.5" fill="#fff" shape-rendering="geometricPrecision"/>
<circle cx="289.9" cy="497.5" r="1.5" fill="#fff" shape-rendering="geometricPrecision"/>
<circle cx="295.8" cy="497.5" r="1.5" fill="#fff" shape-rendering="geometricPrecision"/>
<circle cx="301.7" cy="497.5" r="1.5" fill="#fff" shape-rendering="geometricPrecision"/>
<circle cx="307.6" cy="497.5" r="1.5" fill="#fff" shape-rendering="geometricPrecision"/>
<circle cx="313.4" cy="497.5" r="1.5" fill="#fff" shape-rendering="geometricPrecision"/>
<circle cx="319.3" cy="497.5" r="1.5" fill="#fff" shape-rendering="geometricPrecision"/>
<circle cx="325.2" cy="497.5" r="1.5" fill="#fff" shape-rendering="geometricPrecision"/>
<circle cx="331.0" cy="497.5" r="1.5" fill="#fff" shape-rendering="geometricPrecision"/>
<circle cx="336.9" cy="497.5" r="1.5" fill="#fff" shape-rendering="geometricPrecision"/>
<circle cx="342.8" cy="497.5" r="1.5" fill="#fff" shape-rendering="geometricPrecision"/>
<circle cx="348.6" cy="497.5" r="1.5" fill="#fff" shape-rendering="geometricPrecision"/>
<circle cx="278.2" cy="503.5" r="1.5" fill="#fff" shape-rendering="geometricPrecision"/>
<circle cx="284.1" cy="503.5" r="1.5" fill="#fff" shape-rendering="geometricPrecision"/>
<circle cx="289.9" cy="503.5" r="1.5" fill="#fff" shape-rendering="geometricPrecision"/>
<circle cx="295.8" cy="503.5" r="1.5" fill="#fff" shape-rendering="geometricPrecision"/>
<circle cx="301.7" cy="503.5" r="1.5" fill="#fff" shape-rendering="geometricPrecision"/>
<circle cx="307.6" cy="503.5" r="1.5" fill="#fff" shape-rendering="geometricPrecision"/>
<circle cx="313.4" cy="503.5" r="1.5" fill="#fff" shape-rendering="geometricPrecision"/>
<circle cx="319.3" cy="503.5" r="1.5" fill="#fff" shape-rendering="geometricPrecision"/>
<circle cx="325.2" cy="503.5" r="1.5" fill="#fff" shape-rendering="geometricPrecision"/>
<circle cx="331.0" cy="503.5" r="1.5" fill="#fff" shape-rendering="geometricPrecision"/>
<circle cx="336.9" cy="503.5" r="1.5" fill="#fff" shape-rendering="geometricPrecision"/>
<circle cx="342.8" cy="503.5" r="1.5" fill="#fff" shape-rendering="geometricPrecision"/>
<circle cx="348.6" cy="503.5" r="1.5" fill="#fff" shape-rendering="geometricPrecision"/>
<rect x="296" y="450" width="35" height="35" fill="#fff"/>
<rect x="298.2" y="459" width="30.8" height="16.6" rx="3.5" fill="#fff" stroke="#000" stroke-width="2"/>
<rect x="301" y="460" width="25" height="1" fill="#000"/>
<text transform="translate(300.8,470.8) scale(0.840,1)" font-size="13.52" fill="#000" stroke="#000" stroke-width="0.3"><tspan x="-1.11" letter-spacing="1.80">NPU</tspan></text>
<circle cx="299.6" cy="480.6" r="2.7" fill="#000" shape-rendering="geometricPrecision"/>
<polygon points="296,481 296,485 300,485" fill="#000"/>
<polygon points="274,504 274,508 278,508" fill="#fff"/>
<rect x="610" y="358" width="126" height="43" fill="#000"/>
<rect x="610" y="373" width="2" height="14" fill="#fff"/>
<rect x="612" y="360" width="4" height="1" fill="#fff"/>
<rect x="618" y="360" width="4" height="1" fill="#fff"/>
<rect x="624" y="360" width="4" height="1" fill="#fff"/>
<rect x="630" y="360" width="4" height="1" fill="#fff"/>
<rect x="636" y="360" width="4" height="1" fill="#fff"/>
<rect x="642" y="360" width="4" height="1" fill="#fff"/>
<rect x="648" y="360" width="4" height="1" fill="#fff"/>
<rect x="654" y="360" width="4" height="1" fill="#fff"/>
<rect x="660" y="360" width="4" height="1" fill="#fff"/>
<rect x="666" y="360" width="4" height="1" fill="#fff"/>
<rect x="672" y="360" width="4" height="1" fill="#fff"/>
<rect x="677" y="360" width="4" height="1" fill="#fff"/>
<rect x="683" y="360" width="4" height="1" fill="#fff"/>
<rect x="689" y="360" width="4" height="1" fill="#fff"/>
<rect x="695" y="360" width="4" height="1" fill="#fff"/>
<rect x="701" y="360" width="4" height="1" fill="#fff"/>
<rect x="707" y="360" width="4" height="1" fill="#fff"/>
<rect x="713" y="360" width="4" height="1" fill="#fff"/>
<rect x="719" y="360" width="4" height="1" fill="#fff"/>
<rect x="725" y="360" width="4" height="1" fill="#fff"/>
<rect x="730" y="360" width="4" height="1" fill="#fff"/>
<rect x="659" y="371.5" width="28.5" height="15" rx="2.5" fill="#fff"/>
<text transform="translate(661,383.3) scale(0.805,1)" font-size="13.81" fill="#000" stroke="#000" stroke-width="0.3"><tspan x="-1.13" letter-spacing="1.80">KBD</tspan></text>
<rect x="610" y="410" width="88" height="41" fill="#000"/>
<rect x="610" y="424" width="2" height="13" fill="#fff"/>
<rect x="613" y="447.5" width="4" height="1" fill="#fff"/>
<rect x="619" y="447.5" width="4" height="1" fill="#fff"/>
<rect x="625" y="447.5" width="4" height="1" fill="#fff"/>
<rect x="631" y="447.5" width="4" height="1" fill="#fff"/>
<rect x="637" y="447.5" width="4" height="1" fill="#fff"/>
<rect x="643" y="447.5" width="4" height="1" fill="#fff"/>
<rect x="649" y="447.5" width="4" height="1" fill="#fff"/>
<rect x="655" y="447.5" width="4" height="1" fill="#fff"/>
<rect x="661" y="447.5" width="4" height="1" fill="#fff"/>
<rect x="667" y="447.5" width="4" height="1" fill="#fff"/>
<rect x="673" y="447.5" width="4" height="1" fill="#fff"/>
<rect x="679" y="447.5" width="4" height="1" fill="#fff"/>
<rect x="685" y="447.5" width="4" height="1" fill="#fff"/>
<rect x="691" y="447.5" width="4" height="1" fill="#fff"/>
<rect x="634" y="423" width="40" height="14.5" rx="2.5" fill="#fff"/>
<text transform="translate(639.7,434.8) scale(0.800,1)" font-size="13.81" fill="#000" stroke="#000" stroke-width="0.3"><tspan x="-1.13" letter-spacing="1.80">BIOS</tspan></text>
<rect x="755" y="392" width="31" height="37" fill="#000"/>
<rect x="779" y="388" width="7" height="46" fill="#000"/>
<rect x="782" y="385" width="4" height="51" fill="#000"/>
<rect x="748.5" y="401.5" width="4" height="6.5" fill="#fff" stroke="#000" stroke-width="1"/>
<rect x="748.5" y="412.5" width="4" height="8" fill="#fff" stroke="#000" stroke-width="1"/>
<rect x="752.5" y="398.5" width="3" height="23.5" fill="#fff" stroke="#000" stroke-width="1"/>
<rect x="753" y="407" width="1" height="5" fill="#fff"/>
<rect x="753" y="401" width="2" height="1" fill="#000"/>
<rect x="753" y="403" width="2" height="1" fill="#000"/>
<rect x="753" y="405" width="2" height="1" fill="#000"/>
<rect x="753" y="414" width="2" height="1" fill="#000"/>
<rect x="753" y="416" width="2" height="1" fill="#000"/>
<rect x="753" y="418" width="2" height="1" fill="#000"/>
<rect x="610.5" y="487.5" width="111" height="24" fill="#fff" stroke="#000" stroke-width="1"/>
<rect x="611" y="494.5" width="110" height="1" fill="#000"/>
<rect x="612.5" y="491.5" width="7" height="2" fill="#000"/>
<rect x="613.5" y="492.5" width="5" height="1" fill="#fff"/>
<rect x="611.5" y="493.5" width="8.7" height="1" fill="#000"/>
<rect x="611.5" y="498" width="7.2" height="1.7" fill="#000"/>
<rect x="621.77" y="491.5" width="7" height="2" fill="#000"/>
<rect x="622.77" y="492.5" width="5" height="1" fill="#fff"/>
<rect x="620.77" y="493.5" width="8.7" height="1" fill="#000"/>
<rect x="620.55" y="498" width="7.2" height="1.7" fill="#000"/>
<rect x="631.04" y="491.5" width="7" height="2" fill="#000"/>
<rect x="632.04" y="492.5" width="5" height="1" fill="#fff"/>
<rect x="630.04" y="493.5" width="8.7" height="1" fill="#000"/>
<rect x="629.6" y="498" width="7.2" height="1.7" fill="#000"/>
<rect x="640.31" y="491.5" width="7" height="2" fill="#000"/>
<rect x="641.31" y="492.5" width="5" height="1" fill="#fff"/>
<rect x="639.31" y="493.5" width="8.7" height="1" fill="#000"/>
<rect x="638.65" y="498" width="7.2" height="1.7" fill="#000"/>
<rect x="649.58" y="491.5" width="7" height="2" fill="#000"/>
<rect x="650.58" y="492.5" width="5" height="1" fill="#fff"/>
<rect x="648.58" y="493.5" width="8.7" height="1" fill="#000"/>
<rect x="647.7" y="498" width="7.2" height="1.7" fill="#000"/>
<rect x="658.85" y="491.5" width="7" height="2" fill="#000"/>
<rect x="659.85" y="492.5" width="5" height="1" fill="#fff"/>
<rect x="657.85" y="493.5" width="8.7" height="1" fill="#000"/>
<rect x="656.75" y="498" width="7.2" height="1.7" fill="#000"/>
<rect x="668.12" y="491.5" width="7" height="2" fill="#000"/>
<rect x="669.12" y="492.5" width="5" height="1" fill="#fff"/>
<rect x="667.12" y="493.5" width="8.7" height="1" fill="#000"/>
<rect x="665.8" y="498" width="7.2" height="1.7" fill="#000"/>
<rect x="677.39" y="491.5" width="7" height="2" fill="#000"/>
<rect x="678.39" y="492.5" width="5" height="1" fill="#fff"/>
<rect x="676.39" y="493.5" width="8.7" height="1" fill="#000"/>
<rect x="674.85" y="498" width="7.2" height="1.7" fill="#000"/>
<rect x="686.66" y="491.5" width="7" height="2" fill="#000"/>
<rect x="687.66" y="492.5" width="5" height="1" fill="#fff"/>
<rect x="685.66" y="493.5" width="8.7" height="1" fill="#000"/>
<rect x="683.9" y="498" width="7.2" height="1.7" fill="#000"/>
<rect x="695.93" y="491.5" width="7" height="2" fill="#000"/>
<rect x="696.93" y="492.5" width="5" height="1" fill="#fff"/>
<rect x="694.93" y="493.5" width="8.7" height="1" fill="#000"/>
<rect x="692.95" y="498" width="7.2" height="1.7" fill="#000"/>
<rect x="705.2" y="491.5" width="7" height="2" fill="#000"/>
<rect x="706.2" y="492.5" width="5" height="1" fill="#fff"/>
<rect x="704.2" y="493.5" width="8.7" height="1" fill="#000"/>
<rect x="702" y="498" width="7.2" height="1.7" fill="#000"/>
<rect x="714.47" y="491.5" width="7" height="2" fill="#000"/>
<rect x="715.47" y="492.5" width="5" height="1" fill="#fff"/>
<rect x="713.47" y="493.5" width="8.7" height="1" fill="#000"/>
<rect x="711.05" y="498" width="7.2" height="1.7" fill="#000"/>
<rect x="615.5" y="501.5" width="7" height="7" fill="#fff" stroke="#000" stroke-width="1"/>
<rect x="625.5" y="501.5" width="7" height="7" fill="#fff" stroke="#000" stroke-width="1"/>
<rect x="635.5" y="501.5" width="7" height="7" fill="#fff" stroke="#000" stroke-width="1"/>
<rect x="644.5" y="501.5" width="7" height="7" fill="#fff" stroke="#000" stroke-width="1"/>
<rect x="654.5" y="501.5" width="7" height="7" fill="#fff" stroke="#000" stroke-width="1"/>
<rect x="663.5" y="501.5" width="7" height="7" fill="#fff" stroke="#000" stroke-width="1"/>
<rect x="672.5" y="501.5" width="7" height="7" fill="#fff" stroke="#000" stroke-width="1"/>
<rect x="681.5" y="501.5" width="7" height="7" fill="#fff" stroke="#000" stroke-width="1"/>
<rect x="690.5" y="501.5" width="7" height="7" fill="#fff" stroke="#000" stroke-width="1"/>
<rect x="700.5" y="501.5" width="7" height="7" fill="#fff" stroke="#000" stroke-width="1"/>
<rect x="710.5" y="501.5" width="7" height="7" fill="#fff" stroke="#000" stroke-width="1"/>
<rect x="610" y="501" width="3" height="8" fill="#000"/>
<rect x="611" y="502" width="1" height="1.5" fill="#fff"/>
<rect x="611" y="506" width="1" height="1.5" fill="#fff"/>
<rect x="719" y="501" width="3" height="8" fill="#000"/>
<rect x="720" y="502" width="1" height="1.5" fill="#fff"/>
<rect x="720" y="506" width="1" height="1.5" fill="#fff"/>
<rect x="11" y="72" width="7" height="26" fill="#000"/>
<rect x="12" y="73" width="5" height="2" fill="#fff"/>
<rect x="12" y="80" width="5" height="2" fill="#fff"/>
<rect x="12" y="86" width="5" height="2" fill="#fff"/>
<rect x="12" y="92" width="5" height="1" fill="#fff"/>
<rect x="13" y="76" width="3" height="3" fill="#fff"/>
<rect x="12" y="106" width="7" height="31" fill="#000"/>
<rect x="13" y="107" width="5" height="1" fill="#fff"/>
<rect x="13" y="115" width="5" height="1" fill="#fff"/>
<rect x="13" y="120" width="5" height="1" fill="#fff"/>
<rect x="13" y="125" width="5" height="1" fill="#fff"/>
<rect x="13" y="130" width="5" height="1" fill="#fff"/>
<rect x="13" y="107" width="5" height="7" fill="#fff"/>
<rect x="14.5" y="108.5" width="2" height="4" fill="#fff" stroke="#000" stroke-width="1"/>
<rect x="17" y="114" width="1" height="22" fill="#fff"/>
<rect x="12" y="147" width="6" height="13" fill="#000"/>
<rect x="13" y="152.5" width="4" height="1.5" fill="#fff"/>
<rect x="12" y="171" width="6" height="19" fill="#000"/>
<rect x="13" y="172" width="4" height="2" fill="#fff"/>
<rect x="13" y="182" width="4" height="1.5" fill="#fff"/>
<rect x="13" y="175" width="4" height="3" fill="#fff"/>
<rect x="14" y="175.5" width="2" height="2" fill="#000"/>
<rect x="12" y="203" width="6" height="14" fill="#000"/>
<rect x="13" y="204" width="4" height="2" fill="#fff"/>
<rect x="13" y="208" width="4" height="1" fill="#fff"/>
<rect x="13" y="212" width="4" height="1" fill="#fff"/>
<rect x="451.5" y="385.5" width="6" height="13" fill="#fff" stroke="#000" stroke-width="1"/>
<rect x="452" y="387" width="3.5" height="4.5" fill="#000"/>
<rect x="452" y="392.7" width="3.5" height="3.8" fill="#000"/>
<rect x="711.5" y="435.5" width="6" height="13" fill="#fff" stroke="#000" stroke-width="1"/>
<rect x="713.5" y="437" width="3.5" height="4.5" fill="#000"/>
<rect x="713.5" y="442.7" width="3.5" height="3.8" fill="#000"/>
<rect x="735" y="423" width="6" height="26" fill="#000"/>
<rect x="736" y="424" width="4" height="2" fill="#fff"/>
<rect x="736" y="433" width="4" height="1" fill="#fff"/>
<rect x="736" y="438" width="4" height="1" fill="#fff"/>
<rect x="736" y="443" width="4" height="1" fill="#fff"/>
<rect x="737" y="427" width="2" height="3" fill="#fff"/>
<rect x="106.5" y="501.5" width="6" height="13" fill="#fff" stroke="#000" stroke-width="1"/>
<rect x="107" y="503" width="3.5" height="4.5" fill="#000"/>
<rect x="107" y="508.7" width="3.5" height="3.8" fill="#000"/>
<rect x="166" y="316" width="19" height="7" fill="#000"/>
<rect x="167" y="317" width="5" height="5" fill="#fff"/>
<rect x="168.5" y="318.5" width="2" height="2" fill="#000"/>
<rect x="174" y="318" width="1" height="4" fill="#fff"/>
<rect x="178" y="318" width="1" height="4" fill="#fff"/>
<rect x="166.5" y="326.5" width="18" height="6" fill="#fff" stroke="#000" stroke-width="1"/>
<rect x="168" y="328" width="3" height="3" fill="#fff" stroke="#000" stroke-width="1"/>
<rect x="169" y="329" width="1" height="1" fill="#000"/>
<rect x="172.5" y="327" width="11.5" height="3.5" fill="#000"/>
<rect x="177" y="328" width="1" height="2.5" fill="#fff"/>
<path d="M329.0,52.0 H347.0 Q350.0,52.0 350.0,55.0 V65.0 Q350.0,68.0 347.0,68.0 H329.0 Q326.0,68.0 326.0,65.0 V55.0 Q326.0,52.0 329.0,52.0 Z" fill="#fff" stroke="#000" stroke-width="2"/>
<polygon points="333.80,52.00 335.38,48.01 336.15,36.01 338.85,35.99 339.77,47.99 341.40,52.00" fill="#000" shape-rendering="geometricPrecision"/>
<polygon points="336.11,53.20 336.10,52.00 337.58,48.50 339.10,52.00 339.11,53.20" fill="#fff" shape-rendering="geometricPrecision"/>
<text transform="translate(330.9,63.8) scale(0.719,1)" font-size="13.81" fill="#000" stroke="#000" stroke-width="0.3"><tspan x="-0.64" letter-spacing="1.80">S1</tspan></text>
<path d="M29.0,62.0 H54.0 Q57.0,62.0 57.0,65.0 V75.7 Q57.0,78.7 54.0,78.7 H29.0 Q26.0,78.7 26.0,75.7 V65.0 Q26.0,62.0 29.0,62.0 Z" fill="#fff" stroke="#000" stroke-width="2"/>
<rect x="28" y="63" width="27" height="1" fill="#000"/>
<rect x="27" y="64" width="0.5" height="12.7" fill="#000"/>
<polygon points="30.70,79.13 28.55,80.30 21.16,87.80 19.24,86.20 25.33,77.60 25.10,76.47" fill="#000" shape-rendering="geometricPrecision"/>
<polygon points="29.40,77.22 28.63,78.14 25.97,80.10 27.17,77.46 27.95,76.54" fill="#fff" shape-rendering="geometricPrecision"/>
<text transform="translate(30.3,75.1) scale(0.812,1)" font-size="13.37" fill="#000" stroke="#000" stroke-width="0.3"><tspan x="-0.21" letter-spacing="1.80">J42</tspan></text>
<path d="M29.0,97.7 H54.0 Q57.0,97.7 57.0,100.7 V110.5 Q57.0,113.5 54.0,113.5 H29.0 Q26.0,113.5 26.0,110.5 V100.7 Q26.0,97.7 29.0,97.7 Z" fill="#fff" stroke="#000" stroke-width="2"/>
<rect x="28" y="98.7" width="27" height="1" fill="#000"/>
<rect x="27" y="99.7" width="0.5" height="11.8" fill="#000"/>
<polygon points="30.70,113.93 28.64,115.07 21.19,123.27 19.21,121.73 25.32,112.49 25.10,111.27" fill="#000" shape-rendering="geometricPrecision"/>
<polygon points="29.36,112.00 28.63,112.94 26.06,114.97 27.17,112.26 27.91,111.31" fill="#fff" shape-rendering="geometricPrecision"/>
<text transform="translate(30.3,109.9) scale(0.811,1)" font-size="13.37" fill="#000" stroke="#000" stroke-width="0.3"><tspan x="-0.21" letter-spacing="1.80">J41</tspan></text>
<path d="M29.0,129.5 H54.0 Q57.0,129.5 57.0,132.5 V142.0 Q57.0,145.0 54.0,145.0 H29.0 Q26.0,145.0 26.0,142.0 V132.5 Q26.0,129.5 29.0,129.5 Z" fill="#fff" stroke="#000" stroke-width="2"/>
<rect x="28" y="130.5" width="27" height="1" fill="#000"/>
<rect x="27" y="131.5" width="0.5" height="11.5" fill="#000"/>
<polygon points="30.70,145.43 28.70,146.56 21.20,155.24 19.20,153.76 25.32,144.06 25.10,142.77" fill="#000" shape-rendering="geometricPrecision"/>
<polygon points="29.34,143.48 28.63,144.44 26.11,146.51 27.17,143.76 27.89,142.79" fill="#fff" shape-rendering="geometricPrecision"/>
<text transform="translate(30.3,141.4) scale(0.807,1)" font-size="13.37" fill="#000" stroke="#000" stroke-width="0.3"><tspan x="-0.21" letter-spacing="1.80">J40</tspan></text>
<path d="M29.0,157.5 H54.0 Q57.0,157.5 57.0,160.5 V169.7 Q57.0,172.7 54.0,172.7 H29.0 Q26.0,172.7 26.0,169.7 V160.5 Q26.0,157.5 29.0,157.5 Z" fill="#fff" stroke="#000" stroke-width="2"/>
<rect x="28" y="158.5" width="27" height="1" fill="#000"/>
<rect x="27" y="159.5" width="0.5" height="11.2" fill="#000"/>
<polygon points="30.70,173.13 28.61,174.28 21.18,182.28 19.22,180.72 25.32,171.67 25.10,170.47" fill="#000" shape-rendering="geometricPrecision"/>
<polygon points="29.37,171.20 28.63,172.14 26.03,174.15 27.17,171.46 27.92,170.52" fill="#fff" shape-rendering="geometricPrecision"/>
<text transform="translate(30.3,169.1) scale(0.810,1)" font-size="13.37" fill="#000" stroke="#000" stroke-width="0.3"><tspan x="-0.21" letter-spacing="1.80">J39</tspan></text>
<path d="M29.0,186.5 H54.0 Q57.0,186.5 57.0,189.5 V199.3 Q57.0,202.3 54.0,202.3 H29.0 Q26.0,202.3 26.0,199.3 V189.5 Q26.0,186.5 29.0,186.5 Z" fill="#fff" stroke="#000" stroke-width="2"/>
<rect x="28" y="187.5" width="27" height="1" fill="#000"/>
<rect x="27" y="188.5" width="0.5" height="11.8" fill="#000"/>
<polygon points="30.70,202.73 28.60,203.88 21.18,211.78 19.22,210.22 25.32,201.26 25.10,200.07" fill="#000" shape-rendering="geometricPrecision"/>
<polygon points="29.38,200.81 28.63,201.74 26.02,203.74 27.17,201.06 27.93,200.12" fill="#fff" shape-rendering="geometricPrecision"/>
<text transform="translate(30.3,198.7) scale(0.802,1)" font-size="13.37" fill="#000" stroke="#000" stroke-width="0.3"><tspan x="-0.21" letter-spacing="1.80">J34</tspan></text>
<path d="M124.0,483.0 H149.0 Q152.0,483.0 152.0,486.0 V496.7 Q152.0,499.7 149.0,499.7 H124.0 Q121.0,499.7 121.0,496.7 V486.0 Q121.0,483.0 124.0,483.0 Z" fill="#fff" stroke="#000" stroke-width="2"/>
<rect x="123" y="484" width="27" height="1" fill="#000"/>
<rect x="122" y="485" width="0.5" height="12.7" fill="#000"/>
<rect x="150" y="485" width="1" height="12.7" fill="#000"/>
<polygon points="125.70,500.13 123.41,501.33 115.21,508.85 113.39,507.15 120.34,498.46 120.10,497.47" fill="#000" shape-rendering="geometricPrecision"/>
<polygon points="124.44,498.27 123.63,499.14 120.85,500.99 122.17,498.46 122.99,497.58" fill="#fff" shape-rendering="geometricPrecision"/>
<text transform="translate(123.8,494.9) scale(0.857,1)" font-size="13.37" fill="#000" stroke="#000" stroke-width="0.3"><tspan x="-0.21" letter-spacing="1.80">J32</tspan></text>
<path d="M442.0,351.0 H468.0 Q471.0,351.0 471.0,354.0 V363.5 Q471.0,366.5 468.0,366.5 H442.0 Q439.0,366.5 439.0,363.5 V354.0 Q439.0,351.0 442.0,351.0 Z" fill="#fff" stroke="#000" stroke-width="2"/>
<polygon points="450.80,366.50 452.37,372.41 452.90,384.46 455.10,384.54 456.57,372.58 458.60,366.50" fill="#000" shape-rendering="geometricPrecision"/>
<polygon points="453.15,365.30 453.10,366.50 454.58,369.50 456.30,366.50 456.35,365.30" fill="#fff" shape-rendering="geometricPrecision"/>
<text transform="translate(442.6,362.2) scale(0.845,1)" font-size="13.37" fill="#000" stroke="#000" stroke-width="0.3"><tspan x="-0.21" letter-spacing="1.80">J17</tspan></text>
<path d="M705.5,466.5 H722.5 Q725.5,466.5 725.5,469.5 V479.0 Q725.5,482.0 722.5,482.0 H705.5 Q702.5,482.0 702.5,479.0 V469.5 Q702.5,466.5 705.5,466.5 Z" fill="#fff" stroke="#000" stroke-width="2"/>
<polygon points="709.80,466.50 712.22,459.47 713.00,448.98 715.60,449.02 716.02,459.53 718.20,466.50" fill="#000" shape-rendering="geometricPrecision"/>
<polygon points="712.08,467.70 712.10,466.50 714.07,462.50 715.90,466.50 715.88,467.70" fill="#fff" shape-rendering="geometricPrecision"/>
<text transform="translate(707.5,478.4) scale(0.866,1)" font-size="13.37" fill="#000" stroke="#000" stroke-width="0.3"><tspan x="-0.21" letter-spacing="1.80">J3</tspan></text>
<path d="M732.5,466.5 H749.5 Q752.5,466.5 752.5,469.5 V479.0 Q752.5,482.0 749.5,482.0 H732.5 Q729.5,482.0 729.5,479.0 V469.5 Q729.5,466.5 732.5,466.5 Z" fill="#fff" stroke="#000" stroke-width="2"/>
<polygon points="736.80,466.50 737.94,459.92 736.72,449.22 739.28,448.78 741.69,459.28 745.20,466.50" fill="#000" shape-rendering="geometricPrecision"/>
<polygon points="739.30,467.68 739.10,466.50 740.32,462.56 742.90,466.50 743.10,467.68" fill="#fff" shape-rendering="geometricPrecision"/>
<text transform="translate(734.1,478.4) scale(0.790,1)" font-size="13.37" fill="#000" stroke="#000" stroke-width="0.3"><tspan x="-0.21" letter-spacing="1.80">J4</tspan></text>
<path d="M204.0,307.5 H228.5 Q231.5,307.5 231.5,310.5 V320.5 Q231.5,323.5 228.5,323.5 H204.0 Q201.0,323.5 201.0,320.5 V310.5 Q201.0,307.5 204.0,307.5 Z" fill="#fff" stroke="#000" stroke-width="2"/>
<rect x="203" y="308.5" width="26.5" height="1" fill="#000"/>
<rect x="202" y="309.5" width="0.5" height="12" fill="#000"/>
<polygon points="201.00,311.30 184.79,318.22 184.79,318.22 185.21,320.38 185.21,320.38 201.00,321.00" fill="#000" shape-rendering="geometricPrecision"/>
<polygon points="202.18,313.37 201.00,313.60 194.13,317.50 201.00,318.70 202.18,318.47" fill="#fff" shape-rendering="geometricPrecision"/>
<text transform="translate(203.7,319.9) scale(0.839,1)" font-size="13.37" fill="#000" stroke="#000" stroke-width="0.3"><tspan x="-0.21" letter-spacing="1.80">J50</tspan></text>
<path d="M204.0,326.5 H228.5 Q231.5,326.5 231.5,329.5 V339.5 Q231.5,342.5 228.5,342.5 H204.0 Q201.0,342.5 201.0,339.5 V329.5 Q201.0,326.5 204.0,326.5 Z" fill="#fff" stroke="#000" stroke-width="2"/>
<polygon points="201.00,332.20 185.65,326.76 185.65,326.76 184.35,329.24 184.35,329.24 201.00,340.50" fill="#000" shape-rendering="geometricPrecision"/>
<polygon points="202.06,335.06 201.00,334.50 197.45,334.50 201.00,338.20 202.06,338.76" fill="#fff" shape-rendering="geometricPrecision"/>
<text transform="translate(206,338.3) scale(0.749,1)" font-size="13.37" fill="#000" stroke="#000" stroke-width="0.3"><tspan x="-0.21" letter-spacing="1.80">J51</tspan></text>
<path d="M100.0,327.0 H142.0 Q145.0,327.0 145.0,330.0 V341.0 Q145.0,344.0 142.0,344.0 H100.0 Q97.0,344.0 97.0,341.0 V330.0 Q97.0,327.0 100.0,327.0 Z" fill="#fff" stroke="#000" stroke-width="2"/>
<rect x="99" y="328" width="44" height="1" fill="#000"/>
<rect x="98" y="329" width="0.5" height="13" fill="#000"/>
<text transform="translate(99,339.2) scale(0.823,1)" font-size="13.37" fill="#000" stroke="#000" stroke-width="0.3"><tspan x="-0.68" letter-spacing="1.80">CACHE</tspan></text>
<rect x="139" y="90" width="57.5" height="17" fill="#000"/>
<rect x="140" y="91" width="55" height="14" rx="0" fill="#fff"/>
<text transform="translate(143.1,100.8) scale(0.811,1)" font-size="13.37" fill="#000" stroke="#000" stroke-width="0.3"><tspan x="-1.10" letter-spacing="1.80">BANK</tspan> <tspan x="49.03" letter-spacing="0.00">1</tspan></text>
<rect x="139" y="173" width="57.5" height="17" fill="#000"/>
<rect x="140" y="174" width="55" height="14" rx="0" fill="#fff"/>
<text transform="translate(142,184.5) scale(0.828,1)" font-size="13.37" fill="#000" stroke="#000" stroke-width="0.3"><tspan x="-1.10" letter-spacing="1.80">BANK</tspan> <tspan x="47.40" letter-spacing="0.00">0</tspan></text>
<rect x="50" y="406" width="58.5" height="17" fill="#000"/>
<rect x="51" y="407" width="56" height="14" rx="2" fill="#fff"/>
<text transform="translate(54,417.8) scale(0.826,1)" font-size="13.37" fill="#000" stroke="#000" stroke-width="0.3"><tspan x="-1.10" letter-spacing="1.80">BANK</tspan> <tspan x="50.31" letter-spacing="0.00">1</tspan></text>
<rect x="140" y="406" width="57.5" height="17" fill="#000"/>
<rect x="141" y="407" width="55" height="14" rx="0" fill="#fff"/>
<text transform="translate(143,417.8) scale(0.826,1)" font-size="13.37" fill="#000" stroke="#000" stroke-width="0.3"><tspan x="-1.10" letter-spacing="1.80">BANK</tspan> <tspan x="48.63" letter-spacing="0.00">0</tspan></text>
<text transform="translate(614.9,52.9) scale(0.785,1)" font-size="12.35" fill="#000" stroke="#000" stroke-width="0.3"><tspan x="-1.01" letter-spacing="1.80">MH0216</tspan></text>
</svg>
</body>
</html>
